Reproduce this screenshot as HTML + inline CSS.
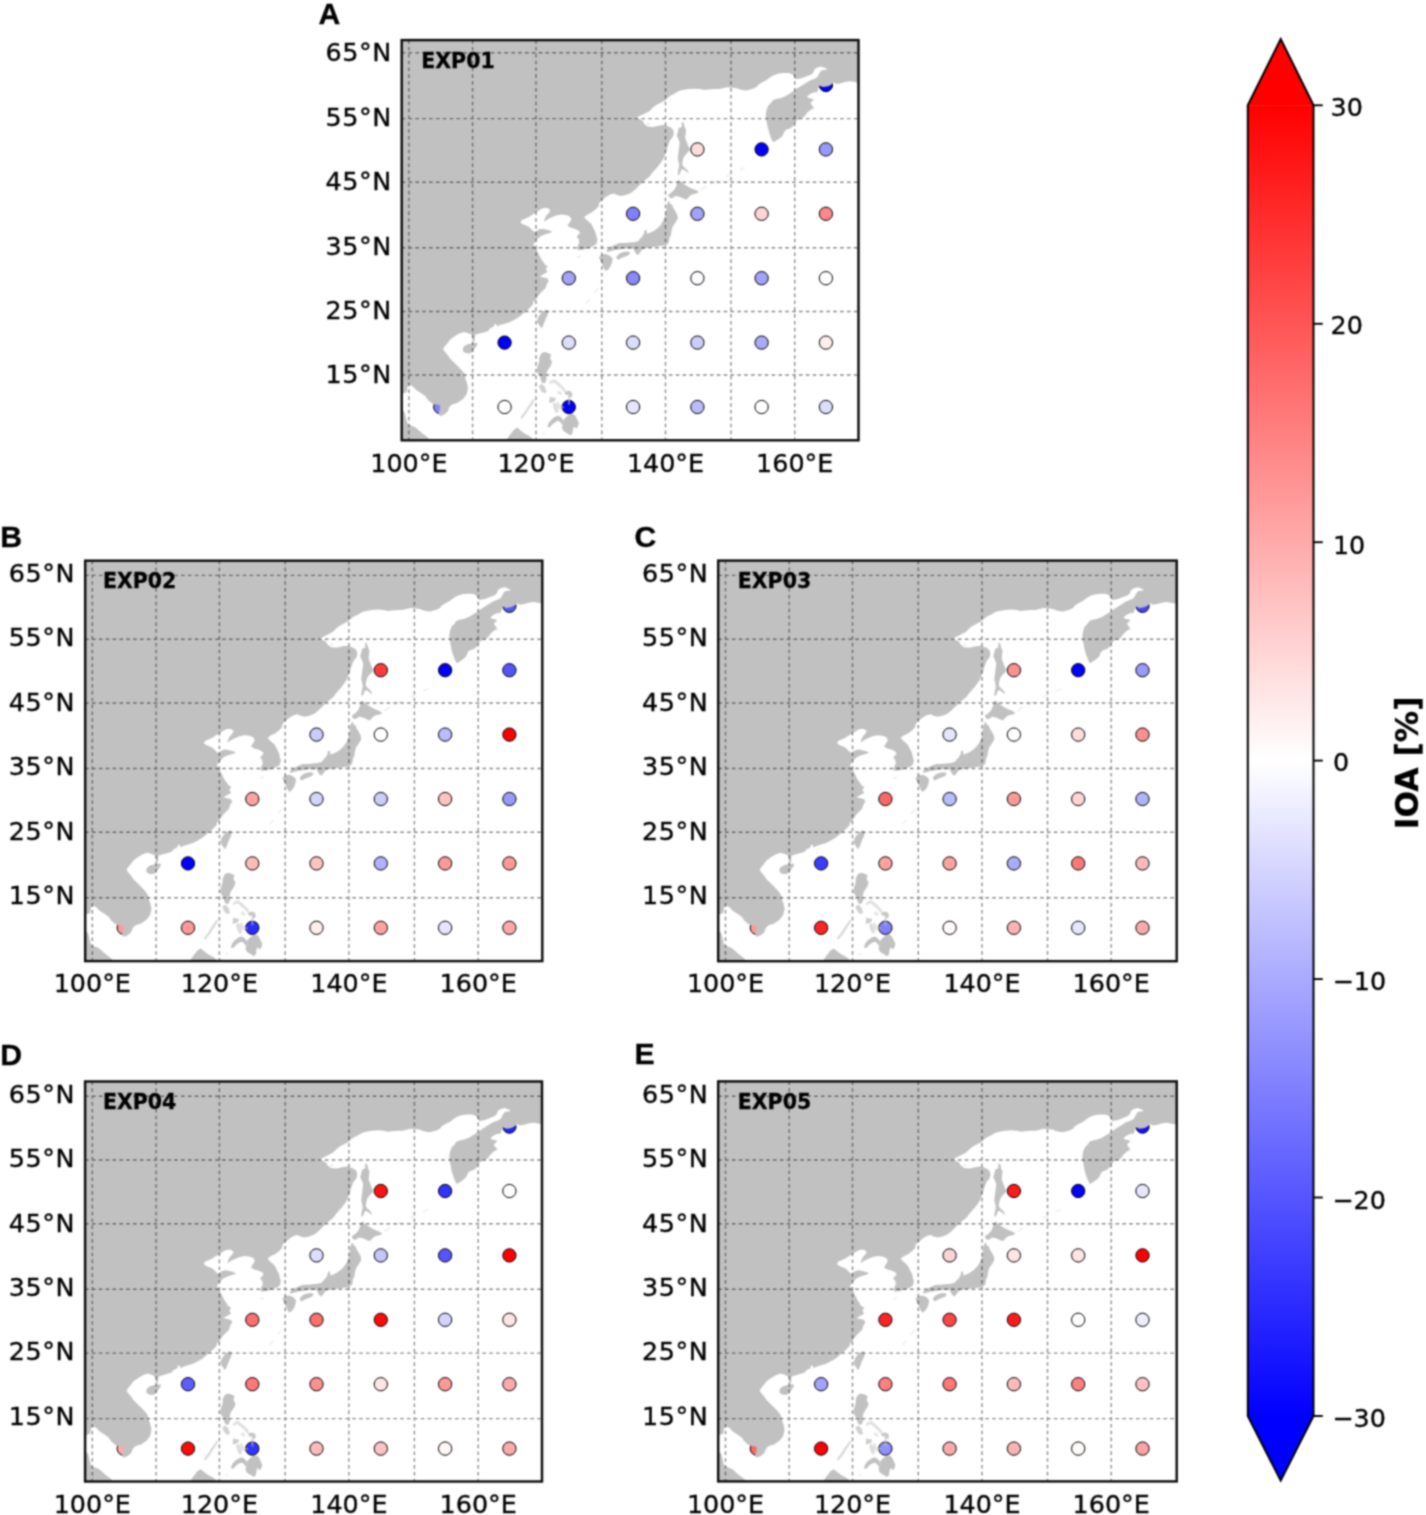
<!DOCTYPE html>
<html lang="en"><head><meta charset="utf-8"><title>IOA maps</title>
<style>
html,body{margin:0;padding:0;background:#fff}
svg{display:block}
.t{font-family:"DejaVu Sans","Liberation Sans",sans-serif;font-size:25.4px;fill:#000;stroke:#000;stroke-width:.35}
.e{font-family:"DejaVu Sans","Liberation Sans",sans-serif;font-weight:bold;font-size:20.5px;fill:#000;stroke:#000;stroke-width:.3}
.p{font-family:"Liberation Sans",Arial,sans-serif;font-weight:bold;font-size:30.2px;fill:#000;stroke:#000;stroke-width:.3}
.c{font-family:"DejaVu Sans","Liberation Sans",sans-serif;font-size:25.4px;fill:#000;stroke:#000;stroke-width:.35}
.l{font-family:"DejaVu Sans","Liberation Sans",sans-serif;font-weight:bold;font-size:31.4px;fill:#000;stroke:#000;stroke-width:.3}
.g{stroke:#000;stroke-opacity:.46;stroke-width:1.4;stroke-dasharray:3.6 3.25;fill:none}
.d{stroke:#000;stroke-opacity:1;stroke-width:1.0}
</style></head><body>
<svg width="1426" height="1515" viewBox="0 0 1426 1515">
<rect width="1426" height="1515" fill="#fff"/>
<defs><linearGradient id="bwr" x1="0" y1="0" x2="0" y2="1"><stop offset="0" stop-color="#ff0000"/><stop offset="0.5" stop-color="#ffffff"/><stop offset="1" stop-color="#0000ff"/></linearGradient>
<clipPath id="cpA"><rect x="401.7" y="40.1" width="456.8" height="400.2"/></clipPath>
<clipPath id="cpB"><rect x="85.2" y="560.7" width="457.1" height="400.4"/></clipPath>
<clipPath id="cpC"><rect x="718.2" y="560.6" width="458.5" height="400.6"/></clipPath>
<clipPath id="cpD"><rect x="85.1" y="1081.5" width="456.9" height="400.0"/></clipPath>
<clipPath id="cpE"><rect x="718.2" y="1081.4" width="458.5" height="400.0"/></clipPath>
<filter id="soft" filterUnits="userSpaceOnUse" x="0" y="0" width="1426" height="1515" color-interpolation-filters="sRGB"><feConvolveMatrix order="5" kernelMatrix="0.00048 0.00501 0.01095 0.00501 0.00048 0.00501 0.05222 0.11405 0.05222 0.00501 0.01095 0.11405 0.24912 0.11405 0.01095 0.00501 0.05222 0.11405 0.05222 0.00501 0.00048 0.00501 0.01095 0.00501 0.00048" edgeMode="duplicate" preserveAlpha="true"/></filter>
</defs>
<g filter="url(#soft)">
<rect width="1426" height="1515" fill="#fff"/>
<g id="panelA">
<g clip-path="url(#cpA)">
<circle class="d" cx="825.9" cy="85.0" r="6.65" fill="#0000ff"/><circle class="d" cx="697.4" cy="149.4" r="6.65" fill="#ffdddd"/><circle class="d" cx="761.6" cy="149.4" r="6.65" fill="#0000ff"/><circle class="d" cx="825.9" cy="149.4" r="6.65" fill="#9999ff"/><circle class="d" cx="633.1" cy="213.8" r="6.65" fill="#8080ff"/><circle class="d" cx="697.4" cy="213.8" r="6.65" fill="#a2a2ff"/><circle class="d" cx="761.6" cy="213.8" r="6.65" fill="#ffd4d4"/><circle class="d" cx="825.9" cy="213.8" r="6.65" fill="#ff8888"/><circle class="d" cx="568.8" cy="278.2" r="6.65" fill="#a2a2ff"/><circle class="d" cx="633.1" cy="278.2" r="6.65" fill="#8888ff"/><circle class="d" cx="697.4" cy="278.2" r="6.65" fill="#fbfbff"/><circle class="d" cx="761.6" cy="278.2" r="6.65" fill="#a2a2ff"/><circle class="d" cx="825.9" cy="278.2" r="6.65" fill="#ffffff"/><circle class="d" cx="504.6" cy="342.6" r="6.65" fill="#0000ff"/><circle class="d" cx="568.8" cy="342.6" r="6.65" fill="#ddddff"/><circle class="d" cx="633.1" cy="342.6" r="6.65" fill="#ddddff"/><circle class="d" cx="697.4" cy="342.6" r="6.65" fill="#ccccff"/><circle class="d" cx="761.6" cy="342.6" r="6.65" fill="#aaaaff"/><circle class="d" cx="825.9" cy="342.6" r="6.65" fill="#ffeeee"/><circle class="d" cx="440.3" cy="407.0" r="6.65" fill="#8080ff"/><circle class="d" cx="504.6" cy="407.0" r="6.65" fill="#ffffff"/><circle class="d" cx="568.8" cy="407.0" r="6.65" fill="#0000ff"/><circle class="d" cx="633.1" cy="407.0" r="6.65" fill="#e6e6ff"/><circle class="d" cx="697.4" cy="407.0" r="6.65" fill="#bbbbff"/><circle class="d" cx="761.6" cy="407.0" r="6.65" fill="#ffffff"/><circle class="d" cx="825.9" cy="407.0" r="6.65" fill="#ddddff"/>
<path fill="#c1c1c1" d="M428.5 440.9L428.5 438.1L421.2 432.5L415.6 427.4L411.6 425.8L407.7 424.1L406.0 418.5L404.9 412.9L403.2 410.6L399.9 409.5L399.9 393.8L403.8 393.2L406.6 392.1L407.2 389.3L407.7 385.9L410.0 385.1L412.8 386.2L416.1 389.9L420.6 392.7L425.1 396.0L427.9 400.0L431.3 402.8L433.5 404.2L437.5 404.4L440.3 405.6L440.0 409.5L438.6 412.9L440.1 416.2L444.2 414.4L447.7 411.6L449.2 407.3L452.0 404.4L457.7 402.8L463.3 398.8L466.6 394.3L468.0 388.2L466.9 382.6L465.5 379.2L465.2 376.1L463.2 372.1L460.8 369.2L457.8 366.2L453.9 362.3L450.0 358.4L448.0 355.4L445.1 352.0L443.1 349.5L444.1 347.1L447.0 343.7L450.0 339.7L453.9 336.8L458.8 333.8L463.7 331.9L467.6 332.9L470.6 334.3L472.1 334.8L472.6 341.2L474.5 341.2L475.0 334.8L478.4 333.8L483.4 332.4L488.3 330.9L489.8 328.6L493.7 326.6L494.7 323.7L496.2 324.2L497.2 326.6L499.6 325.1L504.5 323.7L509.5 322.2L514.4 319.7L519.3 316.8L523.2 313.4L527.1 310.4L530.1 307.5L533.0 304.5L533.5 300.6L535.0 301.6L536.9 297.6L539.9 293.7L542.8 290.8L545.8 287.8L546.8 283.9L548.7 281.0L547.7 278.5L543.8 277.5L539.9 276.5L543.8 274.1L547.7 272.1L545.8 269.2L547.7 266.2L544.8 264.3L542.8 261.3L540.9 258.4L538.9 254.5L536.9 250.5L536.0 247.8L534.0 246.1L533.5 244.6L535.0 241.7L536.9 239.7L539.9 236.8L543.8 234.8L548.7 233.3L552.6 231.9L549.7 230.4L545.8 229.4L541.8 228.7L538.9 229.4L536.5 230.9L534.5 232.1L532.0 229.9L529.1 227.0L526.7 225.8L522.8 224.3L520.3 222.4L521.8 219.9L525.7 218.4L529.6 216.5L532.6 214.5L536.0 212.6L539.5 210.1L543.4 208.1L547.3 208.1L550.3 210.1L548.8 213.0L546.3 215.5L544.9 218.4L543.9 221.9L547.3 219.4L551.2 217.5L556.1 215.5L561.1 214.5L566.0 215.0L569.9 216.5L571.4 219.4L568.9 223.4L567.4 225.8L570.9 227.8L574.8 228.8L578.7 230.7L580.2 233.2L577.7 235.1L576.8 237.1L578.7 239.1L579.2 243.0L577.7 245.9L576.8 248.9L578.7 249.9L583.6 249.4L588.5 247.9L593.4 245.9L596.4 244.0L597.4 240.0L596.4 236.1L595.4 232.2L593.4 228.3L591.5 224.3L588.5 221.4L585.6 218.9L584.1 217.0L587.6 214.5L591.5 212.6L595.4 209.6L598.4 206.7L599.3 202.7L601.8 200.3L606.2 196.8L610.1 194.4L614.1 193.4L617.0 194.9L620.9 195.9L625.8 194.9L630.8 192.9L634.7 190.0L637.6 187.0L641.6 183.1L645.5 179.7L650.0 176.2L651.2 174.1L654.8 170.0L658.1 166.2L661.1 162.3L663.5 158.4L665.0 154.4L666.5 150.5L667.9 145.6L669.9 140.7L672.8 136.8L673.8 133.8L673.3 129.9L670.9 127.4L666.0 125.5L663.0 125.0L657.1 126.0L653.2 126.9L647.3 126.5L643.9 123.5L642.9 121.1L639.5 119.1L635.5 118.6L639.5 116.1L643.4 114.2L649.3 111.2L653.2 107.3L657.1 104.4L661.1 102.4L665.0 100.4L667.9 97.5L670.9 95.5L674.8 93.6L678.7 91.1L682.6 90.1L688.5 89.1L694.4 88.7L700.3 89.1L704.2 90.1L708.2 89.6L714.1 89.1L719.0 89.1L722.9 88.2L726.8 87.2L731.7 87.5L736.6 88.2L738.6 89.1L742.5 90.1L746.5 90.6L750.0 89.6L753.5 88.6L756.4 87.1L758.4 84.7L762.3 82.2L766.2 80.3L770.2 77.3L774.1 74.9L779.0 73.4L783.9 72.9L788.8 72.9L792.7 74.4L795.7 79.3L801.6 78.3L806.5 76.3L811.4 74.4L813.4 72.4L814.3 69.5L817.3 67.5L821.2 66.5L825.1 68.0L827.6 69.5L824.2 69.9L821.2 70.4L819.2 73.4L817.3 77.3L813.4 79.3L809.4 80.7L805.5 83.2L801.6 85.7L797.6 88.1L793.7 91.1L789.8 93.5L785.9 96.0L781.0 97.9L776.1 98.9L773.1 99.9L771.1 102.8L768.2 105.8L766.7 109.7L765.7 114.6L766.2 119.5L767.2 124.4L768.2 129.3L769.7 134.2L771.1 138.2L772.6 141.6L774.1 142.1L777.0 140.1L780.0 138.2L782.9 135.2L783.9 132.3L785.9 129.8L789.8 128.4L792.7 126.4L794.7 123.4L796.7 120.5L800.6 118.5L804.5 116.6L806.5 113.6L809.4 110.7L812.4 108.7L813.4 106.8L811.4 104.8L810.4 102.8L812.4 100.9L813.8 99.4L811.4 98.4L808.4 97.9L807.0 96.5L809.4 94.5L813.4 92.5L817.3 92.0L818.3 88.1L819.2 85.7L823.2 87.1L828.1 86.3L832.0 84.2L833.5 82.0L835.9 84.0L840.8 83.2L845.8 81.7L850.7 81.2L855.6 82.2L861.5 83.2L862.0 36.0L398.0 36.0L398.0 444.0Z"/>
<path fill="#c1c1c1" d="M462.7 349.5L463.7 346.6L466.7 344.6L470.6 343.7L474.5 342.7L477.5 343.2L477.0 345.6L474.5 348.6L472.6 351.5L469.6 353.5L465.7 353.0L463.2 351.5ZM537.4 319.2L539.4 315.3L542.8 311.4L546.3 309.4L548.2 311.4L547.5 315.3L545.6 319.2L544.0 323.2L542.5 327.1L541.4 328.3L538.7 324.6L536.9 321.7ZM606.7 250.0L609.6 247.6L614.5 245.1L619.5 243.1L624.4 243.1L629.3 242.6L634.2 242.2L638.1 241.2L640.1 238.7L642.0 236.8L644.0 233.8L644.5 230.4L646.5 229.9L646.9 233.8L649.9 232.8L653.8 230.9L657.7 227.9L660.7 225.0L663.1 221.1L665.1 216.1L666.1 211.2L666.6 206.3L667.6 202.4L669.5 200.9L670.0 203.9L672.0 204.4L673.4 208.3L675.4 211.2L677.4 215.2L677.9 218.1L676.4 221.1L674.4 224.0L672.5 226.9L671.5 230.9L671.0 234.8L669.5 237.7L669.0 240.7L668.5 243.1L666.6 244.6L664.6 245.6L660.7 246.1L656.8 246.6L652.8 247.1L648.9 247.6L645.0 248.5L642.0 249.5L640.1 252.5L638.1 254.9L635.7 253.4L634.2 250.5L633.2 248.5L629.3 248.5L624.4 248.5L619.5 249.5L614.5 250.0L609.6 251.5L606.7 252.0ZM616.5 256.4L619.5 253.4L623.4 252.0L627.3 251.5L630.3 252.5L628.8 254.9L625.3 256.4L621.4 257.9L618.5 259.8L616.5 258.4ZM598.8 257.4L601.8 254.4L605.7 253.9L609.6 255.4L612.6 258.4L612.1 262.3L610.6 266.2L608.7 269.2L605.7 271.1L603.7 268.2L602.3 264.2L600.3 260.3ZM668.5 194.5L671.5 192.6L674.4 189.6L676.4 185.7L677.4 181.8L678.4 179.8L681.3 181.8L684.2 184.2L688.2 186.7L692.1 188.7L696.0 190.1L699.0 192.1L696.0 193.6L692.1 194.5L689.2 196.5L686.7 199.5L684.2 199.0L681.3 197.5L678.4 196.5L675.4 196.0L673.4 197.5L671.5 198.5L669.5 197.5L668.5 196.0ZM682.2 121.5L683.6 123.0L684.6 126.9L686.1 129.9L685.6 133.8L685.1 137.7L686.6 141.7L688.5 146.6L690.0 149.5L688.5 151.5L685.6 154.4L683.6 157.4L682.6 161.3L682.2 164.2L683.6 166.7L686.6 169.2L688.5 172.1L688.0 173.1L685.6 171.1L682.6 169.2L681.2 170.1L680.2 173.1L678.7 175.5L677.7 174.1L678.2 170.1L679.2 166.2L678.7 162.3L677.7 158.4L678.2 154.4L678.7 150.5L679.2 146.6L679.7 142.6L678.2 138.7L676.8 135.8L677.7 131.8L678.7 127.9L681.7 126.9L681.7 123.5ZM539.3 357.4L541.2 353.5L544.2 352.0L548.1 353.0L551.1 354.5L550.1 358.4L552.0 361.8L551.1 365.3L549.1 368.2L547.1 371.1L546.1 375.1L546.6 379.0L545.2 382.9L542.2 382.9L540.7 380.0L540.3 376.1L538.3 374.1L536.8 371.1L537.3 367.2L538.8 363.3L539.3 360.3ZM505.9 441.3L506.9 439.4L509.8 435.0L513.7 430.0L517.2 427.6L520.6 430.5L524.5 433.5L528.5 435.4L531.4 437.4L533.4 439.4L533.9 441.3ZM563.1 420.5L566.5 416.6L569.9 414.3L573.2 413.8L575.5 416.0L577.2 419.4L578.9 423.3L578.0 426.1L576.3 428.9L575.2 427.2L573.8 426.7L573.0 429.5L572.4 433.4L570.4 435.4L568.2 434.0L565.4 432.3L563.1 430.6L562.0 427.8L562.6 425.0L564.3 423.3ZM564.3 423.3L563.4 420.2L560.9 417.1L558.1 415.7L555.0 416.8L551.4 419.4L548.6 423.0L547.4 426.4L549.7 427.5L551.9 424.7L554.7 422.5L557.3 421.1L559.2 421.3L561.2 423.3L562.6 425.5Z"/>
<path fill="#c1c1c1" fill-opacity="0.32" d="M700.4 189.6L705.8 185.7L706.8 186.7L701.4 190.6ZM710.8 183.7L717.6 179.8L718.4 180.8L711.5 184.7ZM725.8 176.0L731.7 173.1L732.3 174.1L726.4 177.2ZM739.6 169.6L744.5 167.2L745.1 168.2L740.2 170.8ZM593.9 292.7L597.8 287.8L598.8 288.6L594.9 293.5ZM585.5 303.0L589.5 298.6L590.4 299.4L586.5 303.8ZM576.2 256.9L580.1 255.6L580.6 256.9L576.7 258.0ZM811.9 107.7L813.8 106.8L814.8 108.7L812.9 109.9ZM646.8 123.0L649.3 122.5L649.8 124.5L647.3 125.0Z"/>
<path fill="#c1c1c1" fill-opacity="0.90" d="M564.3 392.4L567.6 390.8L571.3 391.6L572.4 394.7L571.6 397.5L569.3 396.9L567.9 395.0L565.7 394.7Z"/><path fill="#c1c1c1" fill-opacity="0.60" d="M567.9 396.4L570.2 396.9L569.9 404.8L568.2 404.8L567.7 399.2Z"/><path fill="#c1c1c1" fill-opacity="0.80" d="M549.7 396.9L555.9 398.1L554.5 401.4L551.4 402.5L549.1 403.1Z"/><path fill="#c1c1c1" fill-opacity="0.55" d="M552.5 403.7L555.6 402.5L558.1 406.5L558.7 411.8L556.1 413.2L553.9 409.3Z"/><path fill="#c1c1c1" fill-opacity="0.45" d="M556.4 401.7L558.9 402.0L561.5 408.1L560.1 410.1L557.8 406.5Z"/><path fill="#c1c1c1" fill-opacity="0.75" d="M539.0 385.4L541.8 384.0L544.9 386.8L546.6 391.9L544.4 393.3L541.5 391.6L539.6 388.2Z"/><path fill="#c1c1c1" fill-opacity="0.50" d="M549.1 382.6L551.6 380.1L555.0 379.5L558.7 382.3L562.0 385.4L564.8 388.5L566.0 391.6L564.0 391.9L561.5 388.8L558.1 386.0L555.0 383.2L552.5 382.6L550.2 384.6Z"/><path fill="#c1c1c1" fill-opacity="0.40" d="M556.7 391.6L560.1 390.8L562.3 393.6L561.2 395.2L558.4 394.1Z"/><path fill="#c1c1c1" fill-opacity="0.60" d="M561.5 406.5L563.7 405.9L564.3 408.1L562.0 408.7Z"/><path fill="#c1c1c1" fill-opacity="0.60" d="M524.7 411.5L528.1 406.2L530.9 402.3L533.1 398.9L534.8 400.0L532.6 403.9L529.8 408.1L526.4 413.5L521.9 418.8L520.2 417.4Z"/><path fill="#c1c1c1" fill-opacity="0.30" d="M541.8 432.6L544.6 432.3L544.9 433.7L542.1 434.0Z"/>
<path class="g" d="M408.9 40.1 V440.3M472.6 40.1 V440.3M536.0 40.1 V440.3M601.8 40.1 V440.3M665.5 40.1 V440.3M731.0 40.1 V440.3M794.7 40.1 V440.3M401.7 52.8 H858.5M401.7 118.6 H858.5M401.7 182.3 H858.5M401.7 247.8 H858.5M401.7 311.5 H858.5M401.7 375.0 H858.5"/>
</g>
<rect x="401.7" y="40.1" width="456.8" height="400.2" fill="none" stroke="#0c0c0c" stroke-width="2.45"/>
<text class="e" x="421.3" y="67.6">EXP01</text>
<text class="p" x="318.6" y="24.0">A</text>
<text class="t" text-anchor="end" letter-spacing=".6" x="391.8" y="61.4">65°N</text><text class="t" text-anchor="end" letter-spacing=".6" x="391.8" y="125.8">55°N</text><text class="t" text-anchor="end" letter-spacing=".6" x="391.8" y="190.2">45°N</text><text class="t" text-anchor="end" letter-spacing=".6" x="391.8" y="254.6">35°N</text><text class="t" text-anchor="end" letter-spacing=".6" x="391.8" y="319.0">25°N</text><text class="t" text-anchor="end" letter-spacing=".6" x="391.8" y="383.4">15°N</text>
<text class="t" text-anchor="middle" x="408.9" y="471.5">100°E</text><text class="t" text-anchor="middle" x="536.0" y="471.5">120°E</text><text class="t" text-anchor="middle" x="665.5" y="471.5">140°E</text><text class="t" text-anchor="middle" x="794.7" y="471.5">160°E</text>
</g>
<g id="panelB">
<g clip-path="url(#cpB)">
<circle class="d" cx="509.4" cy="605.8" r="6.65" fill="#5555ff"/><circle class="d" cx="380.8" cy="670.2" r="6.65" fill="#ff3c3c"/><circle class="d" cx="445.1" cy="670.2" r="6.65" fill="#0000ff"/><circle class="d" cx="509.4" cy="670.2" r="6.65" fill="#5555ff"/><circle class="d" cx="316.5" cy="734.6" r="6.65" fill="#ccccff"/><circle class="d" cx="380.8" cy="734.6" r="6.65" fill="#ffffff"/><circle class="d" cx="445.1" cy="734.6" r="6.65" fill="#bbbbff"/><circle class="d" cx="509.4" cy="734.6" r="6.65" fill="#ff0000"/><circle class="d" cx="252.3" cy="799.0" r="6.65" fill="#ffa2a2"/><circle class="d" cx="316.5" cy="799.0" r="6.65" fill="#d4d4ff"/><circle class="d" cx="380.8" cy="799.0" r="6.65" fill="#ccccff"/><circle class="d" cx="445.1" cy="799.0" r="6.65" fill="#ffc3c3"/><circle class="d" cx="509.4" cy="799.0" r="6.65" fill="#9999ff"/><circle class="d" cx="188.0" cy="863.4" r="6.65" fill="#0000ff"/><circle class="d" cx="252.3" cy="863.4" r="6.65" fill="#ffbbbb"/><circle class="d" cx="316.5" cy="863.4" r="6.65" fill="#ffc3c3"/><circle class="d" cx="380.8" cy="863.4" r="6.65" fill="#b2b2ff"/><circle class="d" cx="445.1" cy="863.4" r="6.65" fill="#ff9999"/><circle class="d" cx="509.4" cy="863.4" r="6.65" fill="#ff9999"/><circle class="d" cx="123.7" cy="927.8" r="6.65" fill="#ff9999"/><circle class="d" cx="188.0" cy="927.8" r="6.65" fill="#ff9999"/><circle class="d" cx="252.3" cy="927.8" r="6.65" fill="#2a2aff"/><circle class="d" cx="316.5" cy="927.8" r="6.65" fill="#ffeeee"/><circle class="d" cx="380.8" cy="927.8" r="6.65" fill="#ffa2a2"/><circle class="d" cx="445.1" cy="927.8" r="6.65" fill="#e6e6ff"/><circle class="d" cx="509.4" cy="927.8" r="6.65" fill="#ffaaaa"/>
<path fill="#c1c1c1" d="M111.9 961.7L111.9 958.9L104.6 953.3L99.0 948.2L95.1 946.6L91.2 944.9L89.5 939.3L88.4 933.7L86.7 931.4L83.3 930.3L83.3 914.6L87.2 914.0L90.0 912.9L90.6 910.1L91.2 906.7L93.4 905.9L96.2 907.0L99.6 910.7L104.1 913.5L108.6 916.8L111.4 920.8L114.7 923.6L117.0 925.0L120.9 925.2L123.7 926.4L123.4 930.3L122.0 933.7L123.6 937.0L127.6 935.2L131.1 932.4L132.7 928.1L135.5 925.2L141.1 923.6L146.7 919.6L150.1 915.1L151.5 909.0L150.4 903.4L149.0 900.0L148.6 896.9L146.7 892.9L144.2 890.0L141.3 887.0L137.4 883.1L133.4 879.2L131.5 876.2L128.5 872.8L126.6 870.3L127.5 867.9L130.5 864.5L133.4 860.5L137.4 857.6L142.3 854.6L147.2 852.7L151.1 853.7L154.0 855.1L155.5 855.6L156.0 862.0L158.0 862.0L158.5 855.6L161.9 854.6L166.8 853.2L171.7 851.7L173.3 849.4L177.2 847.4L178.2 844.5L179.6 845.0L180.6 847.4L183.1 845.9L188.0 844.5L192.9 843.0L197.8 840.5L202.7 837.6L206.6 834.2L210.6 831.2L213.5 828.3L216.5 825.3L217.0 821.4L218.4 822.4L220.4 818.4L223.3 814.5L226.3 811.6L229.2 808.6L230.2 804.7L232.2 801.8L231.2 799.3L227.3 798.3L223.3 797.3L227.3 794.9L231.2 792.9L229.2 790.0L231.2 787.0L228.2 785.1L226.3 782.1L224.3 779.2L222.4 775.3L220.4 771.3L219.4 768.6L217.4 766.9L217.0 765.4L218.4 762.5L220.4 760.5L223.3 757.6L227.3 755.6L232.2 754.1L236.1 752.7L233.2 751.2L229.2 750.2L225.3 749.5L222.4 750.2L219.9 751.7L217.9 752.9L215.5 750.7L212.5 747.8L210.1 746.6L206.2 745.1L203.8 743.2L205.2 740.7L209.2 739.2L213.1 737.3L216.0 735.3L219.5 733.4L222.9 730.9L226.8 728.9L230.8 728.9L233.7 730.9L232.2 733.8L229.8 736.3L228.3 739.2L227.3 742.7L230.8 740.2L234.7 738.3L239.6 736.3L244.5 735.3L249.4 735.8L253.3 737.3L254.8 740.2L252.4 744.2L250.9 746.6L254.3 748.6L258.2 749.6L262.2 751.5L263.6 754.0L261.2 755.9L260.2 757.9L262.2 759.9L262.7 763.8L261.2 766.7L260.2 769.7L262.2 770.7L267.1 770.2L272.0 768.7L276.9 766.7L279.8 764.8L280.8 760.8L279.8 756.9L278.9 753.0L276.9 749.1L274.9 745.1L272.0 742.2L269.0 739.7L267.6 737.8L271.0 735.3L274.9 733.4L278.9 730.4L281.8 727.5L282.8 723.5L285.2 721.1L289.7 717.6L293.6 715.2L297.5 714.2L300.5 715.7L304.4 716.7L309.3 715.7L314.2 713.7L318.1 710.8L321.1 707.8L325.0 703.9L328.9 700.5L333.4 697.0L334.7 694.9L338.2 690.8L341.6 687.0L344.5 683.1L347.0 679.2L348.4 675.2L349.9 671.3L351.4 666.4L353.3 661.5L356.3 657.6L357.3 654.6L356.8 650.7L354.3 648.2L349.4 646.3L346.5 645.8L340.6 646.8L336.6 647.7L330.8 647.3L327.3 644.3L326.3 641.9L322.9 639.9L319.0 639.4L322.9 636.9L326.8 635.0L332.7 632.0L336.6 628.1L340.6 625.2L344.5 623.2L348.4 621.2L351.4 618.3L354.3 616.3L358.2 614.4L362.2 611.9L366.1 610.9L372.0 609.9L377.9 609.5L383.8 609.9L387.7 610.9L391.6 610.4L397.5 609.9L402.4 609.9L406.4 609.0L410.3 608.0L415.2 608.3L420.1 609.0L422.1 609.9L426.0 610.9L429.9 611.4L433.4 610.4L436.9 609.4L439.9 607.9L441.8 605.5L445.8 603.0L449.7 601.1L453.6 598.1L457.5 595.7L462.4 594.2L467.4 593.7L472.3 593.7L476.2 595.2L479.1 600.1L485.0 599.1L489.9 597.1L494.8 595.2L496.8 593.2L497.8 590.3L500.7 588.3L504.7 587.3L508.6 588.8L511.0 590.3L507.6 590.7L504.7 591.2L502.7 594.2L500.7 598.1L496.8 600.1L492.9 601.5L489.0 604.0L485.0 606.5L481.1 608.9L477.2 611.9L473.2 614.3L469.3 616.8L464.4 618.7L459.5 619.7L456.6 620.7L454.6 623.6L451.6 626.6L450.2 630.5L449.2 635.4L449.7 640.3L450.7 645.2L451.6 650.1L453.1 655.0L454.6 659.0L456.1 662.4L457.5 662.9L460.5 660.9L463.4 659.0L466.4 656.0L467.4 653.1L469.3 650.6L473.2 649.2L476.2 647.2L478.2 644.2L480.1 641.3L484.0 639.3L488.0 637.4L489.9 634.4L492.9 631.5L495.8 629.5L496.8 627.6L494.8 625.6L493.9 623.6L495.8 621.7L497.3 620.2L494.8 619.2L491.9 618.7L490.4 617.3L492.9 615.3L496.8 613.3L500.7 612.8L501.7 608.9L502.7 606.5L506.6 607.9L511.5 607.1L515.5 605.0L516.9 602.8L519.4 604.8L524.3 604.0L529.2 602.5L534.1 602.0L539.0 603.0L544.9 604.0L545.5 556.8L81.4 556.8L81.4 964.8Z"/>
<path fill="#c1c1c1" d="M146.2 870.3L147.2 867.4L150.1 865.4L154.0 864.5L158.0 863.5L160.9 864.0L160.4 866.4L158.0 869.4L156.0 872.3L153.1 874.3L149.1 873.8L146.7 872.3ZM220.9 840.0L222.8 836.1L226.3 832.2L229.7 830.2L231.7 832.2L231.0 836.1L229.0 840.0L227.5 844.0L226.0 847.9L224.8 849.1L222.2 845.4L220.4 842.5ZM290.1 770.8L293.1 768.4L298.0 765.9L302.9 763.9L307.8 763.9L312.7 763.4L317.6 763.0L321.6 762.0L323.5 759.5L325.5 757.6L327.4 754.6L327.9 751.2L329.9 750.7L330.4 754.6L333.3 753.6L337.3 751.7L341.2 748.7L344.1 745.8L346.6 741.9L348.6 736.9L349.5 732.0L350.0 727.1L351.0 723.2L353.0 721.7L353.5 724.7L355.4 725.2L356.9 729.1L358.9 732.0L360.8 736.0L361.3 738.9L359.8 741.9L357.9 744.8L355.9 747.7L354.9 751.7L354.4 755.6L353.0 758.5L352.5 761.5L352.0 763.9L350.0 765.4L348.1 766.4L344.1 766.9L340.2 767.4L336.3 767.9L332.4 768.4L328.4 769.3L325.5 770.3L323.5 773.3L321.6 775.7L319.1 774.2L317.6 771.3L316.6 769.3L312.7 769.3L307.8 769.3L302.9 770.3L298.0 770.8L293.1 772.3L290.1 772.8ZM300.0 777.2L302.9 774.2L306.8 772.8L310.8 772.3L313.7 773.3L312.2 775.7L308.8 777.2L304.9 778.7L301.9 780.6L300.0 779.2ZM282.3 778.2L285.2 775.2L289.2 774.7L293.1 776.2L296.0 779.2L295.5 783.1L294.1 787.0L292.1 790.0L289.2 791.9L287.2 789.0L285.7 785.0L283.8 781.1ZM352.0 715.3L354.9 713.4L357.9 710.4L359.8 706.5L360.8 702.6L361.8 700.6L364.8 702.6L367.7 705.0L371.6 707.5L375.6 709.5L379.5 710.9L382.4 712.9L379.5 714.4L375.6 715.3L372.6 717.3L370.2 720.3L367.7 719.8L364.8 718.3L361.8 717.3L358.9 716.8L356.9 718.3L354.9 719.3L353.0 718.3L352.0 716.8ZM365.6 642.3L367.1 643.8L368.1 647.7L369.5 650.7L369.0 654.6L368.6 658.5L370.0 662.5L372.0 667.4L373.5 670.3L372.0 672.3L369.0 675.2L367.1 678.2L366.1 682.1L365.6 685.0L367.1 687.5L370.0 690.0L372.0 692.9L371.5 693.9L369.0 691.9L366.1 690.0L364.6 690.9L363.6 693.9L362.2 696.3L361.2 694.9L361.7 690.9L362.7 687.0L362.2 683.1L361.2 679.2L361.7 675.2L362.2 671.3L362.7 667.4L363.2 663.4L361.7 659.5L360.2 656.6L361.2 652.6L362.2 648.7L365.1 647.7L365.1 644.3ZM222.7 878.2L224.7 874.3L227.6 872.8L231.6 873.8L234.5 875.3L233.5 879.2L235.5 882.6L234.5 886.1L232.5 889.0L230.6 891.9L229.6 895.9L230.1 899.8L228.6 903.7L225.7 903.7L224.2 900.8L223.7 896.9L221.7 894.9L220.3 891.9L220.8 888.0L222.2 884.1L222.7 881.1ZM189.3 962.1L190.3 960.2L193.3 955.8L197.2 950.8L200.6 948.4L204.1 951.3L208.0 954.3L211.9 956.2L214.9 958.2L216.8 960.2L217.3 962.1ZM246.6 941.3L250.0 937.4L253.3 935.1L256.7 934.6L258.9 936.8L260.6 940.2L262.3 944.1L261.5 946.9L259.8 949.7L258.7 948.0L257.3 947.5L256.4 950.3L255.9 954.2L253.9 956.2L251.6 954.8L248.8 953.1L246.6 951.4L245.5 948.6L246.0 945.8L247.7 944.1ZM247.7 944.1L246.9 941.0L244.4 937.9L241.5 936.5L238.5 937.6L234.8 940.2L232.0 943.8L230.9 947.2L233.1 948.3L235.4 945.5L238.2 943.3L240.7 941.9L242.7 942.1L244.6 944.1L246.0 946.3Z"/>
<path fill="#c1c1c1" fill-opacity="0.32" d="M383.9 710.4L389.3 706.5L390.3 707.5L384.9 711.4ZM394.2 704.5L401.1 700.6L401.9 701.6L395.0 705.5ZM409.3 696.8L415.2 693.9L415.8 694.9L409.9 698.0ZM423.0 690.4L427.9 688.0L428.5 689.0L423.6 691.6ZM277.3 813.5L281.3 808.6L282.2 809.4L278.3 814.3ZM269.0 823.8L272.9 819.4L273.9 820.2L270.0 824.6ZM259.7 777.7L263.6 776.4L264.1 777.7L260.2 778.8ZM495.3 628.5L497.3 627.6L498.3 629.5L496.3 630.7ZM330.3 643.8L332.7 643.3L333.2 645.3L330.8 645.8Z"/>
<path fill="#c1c1c1" fill-opacity="0.90" d="M247.7 913.2L251.1 911.6L254.7 912.4L255.9 915.5L255.0 918.3L252.8 917.7L251.4 915.8L249.1 915.5Z"/><path fill="#c1c1c1" fill-opacity="0.60" d="M251.4 917.2L253.6 917.7L253.3 925.6L251.6 925.6L251.2 920.0Z"/><path fill="#c1c1c1" fill-opacity="0.80" d="M233.1 917.7L239.3 918.9L237.9 922.2L234.8 923.3L232.6 923.9Z"/><path fill="#c1c1c1" fill-opacity="0.55" d="M235.9 924.5L239.0 923.3L241.5 927.3L242.1 932.6L239.6 934.0L237.3 930.1Z"/><path fill="#c1c1c1" fill-opacity="0.45" d="M239.9 922.5L242.4 922.8L244.9 928.9L243.5 930.9L241.3 927.3Z"/><path fill="#c1c1c1" fill-opacity="0.75" d="M222.5 906.2L225.3 904.8L228.4 907.6L230.0 912.7L227.8 914.1L225.0 912.4L223.0 909.0Z"/><path fill="#c1c1c1" fill-opacity="0.50" d="M232.6 903.4L235.1 900.9L238.5 900.3L242.1 903.1L245.5 906.2L248.3 909.3L249.4 912.4L247.4 912.7L244.9 909.6L241.5 906.8L238.5 904.0L235.9 903.4L233.7 905.4Z"/><path fill="#c1c1c1" fill-opacity="0.40" d="M240.1 912.4L243.5 911.6L245.8 914.4L244.6 916.0L241.8 914.9Z"/><path fill="#c1c1c1" fill-opacity="0.60" d="M244.9 927.3L247.2 926.7L247.7 928.9L245.5 929.5Z"/><path fill="#c1c1c1" fill-opacity="0.60" d="M208.2 932.3L211.5 927.0L214.3 923.1L216.6 919.7L218.3 920.8L216.0 924.7L213.2 928.9L209.9 934.3L205.4 939.6L203.7 938.2Z"/><path fill="#c1c1c1" fill-opacity="0.30" d="M225.3 953.4L228.1 953.1L228.4 954.5L225.6 954.8Z"/>
<path class="g" d="M92.3 560.7 V961.1M156.1 560.7 V961.1M219.4 560.7 V961.1M285.2 560.7 V961.1M348.9 560.7 V961.1M414.4 560.7 V961.1M478.2 560.7 V961.1M85.2 575.4 H542.2M85.2 639.2 H542.2M85.2 703.0 H542.2M85.2 768.5 H542.2M85.2 832.3 H542.2M85.2 897.8 H542.2"/>
</g>
<rect x="85.2" y="560.7" width="457.1" height="400.4" fill="none" stroke="#0c0c0c" stroke-width="2.45"/>
<text class="e" x="103.0" y="588.2">EXP02</text>
<text class="p" x="0.3" y="546.8">B</text>
<text class="t" text-anchor="end" letter-spacing=".6" x="75.2" y="582.0">65°N</text><text class="t" text-anchor="end" letter-spacing=".6" x="75.2" y="646.4">55°N</text><text class="t" text-anchor="end" letter-spacing=".6" x="75.2" y="710.8">45°N</text><text class="t" text-anchor="end" letter-spacing=".6" x="75.2" y="775.2">35°N</text><text class="t" text-anchor="end" letter-spacing=".6" x="75.2" y="839.6">25°N</text><text class="t" text-anchor="end" letter-spacing=".6" x="75.2" y="904.0">15°N</text>
<text class="t" text-anchor="middle" x="92.3" y="992.3">100°E</text><text class="t" text-anchor="middle" x="219.4" y="992.3">120°E</text><text class="t" text-anchor="middle" x="348.9" y="992.3">140°E</text><text class="t" text-anchor="middle" x="478.2" y="992.3">160°E</text>
</g>
<g id="panelC">
<g clip-path="url(#cpC)">
<circle class="d" cx="1142.5" cy="605.8" r="6.65" fill="#4444ff"/><circle class="d" cx="1013.9" cy="670.2" r="6.65" fill="#ff9090"/><circle class="d" cx="1078.2" cy="670.2" r="6.65" fill="#0000ff"/><circle class="d" cx="1142.5" cy="670.2" r="6.65" fill="#9999ff"/><circle class="d" cx="949.6" cy="734.6" r="6.65" fill="#e6e6ff"/><circle class="d" cx="1013.9" cy="734.6" r="6.65" fill="#ffffff"/><circle class="d" cx="1078.2" cy="734.6" r="6.65" fill="#ffdddd"/><circle class="d" cx="1142.5" cy="734.6" r="6.65" fill="#ff9090"/><circle class="d" cx="885.4" cy="799.0" r="6.65" fill="#ff6666"/><circle class="d" cx="949.6" cy="799.0" r="6.65" fill="#bbbbff"/><circle class="d" cx="1013.9" cy="799.0" r="6.65" fill="#ff9999"/><circle class="d" cx="1078.2" cy="799.0" r="6.65" fill="#ffd4d4"/><circle class="d" cx="1142.5" cy="799.0" r="6.65" fill="#b2b2ff"/><circle class="d" cx="821.1" cy="863.4" r="6.65" fill="#3c3cff"/><circle class="d" cx="885.4" cy="863.4" r="6.65" fill="#ffa2a2"/><circle class="d" cx="949.6" cy="863.4" r="6.65" fill="#ffa2a2"/><circle class="d" cx="1013.9" cy="863.4" r="6.65" fill="#aaaaff"/><circle class="d" cx="1078.2" cy="863.4" r="6.65" fill="#ff7777"/><circle class="d" cx="1142.5" cy="863.4" r="6.65" fill="#ffbbbb"/><circle class="d" cx="756.8" cy="927.8" r="6.65" fill="#ff9999"/><circle class="d" cx="821.1" cy="927.8" r="6.65" fill="#ff2222"/><circle class="d" cx="885.4" cy="927.8" r="6.65" fill="#8080ff"/><circle class="d" cx="949.6" cy="927.8" r="6.65" fill="#fffbfb"/><circle class="d" cx="1013.9" cy="927.8" r="6.65" fill="#ffb2b2"/><circle class="d" cx="1078.2" cy="927.8" r="6.65" fill="#e6e6ff"/><circle class="d" cx="1142.5" cy="927.8" r="6.65" fill="#ffaaaa"/>
<path fill="#c1c1c1" d="M745.0 961.7L745.0 958.9L737.7 953.3L732.1 948.2L728.2 946.6L724.3 944.9L722.6 939.3L721.5 933.7L719.8 931.4L716.4 930.3L716.4 914.6L720.3 914.0L723.1 912.9L723.7 910.1L724.3 906.7L726.5 905.9L729.3 907.0L732.7 910.7L737.2 913.5L741.7 916.8L744.5 920.8L747.8 923.6L750.1 925.0L754.0 925.2L756.8 926.4L756.5 930.3L755.1 933.7L756.7 937.0L760.7 935.2L764.2 932.4L765.8 928.1L768.6 925.2L774.2 923.6L779.8 919.6L783.2 915.1L784.6 909.0L783.5 903.4L782.1 900.0L781.7 896.9L779.8 892.9L777.3 890.0L774.4 887.0L770.5 883.1L766.5 879.2L764.6 876.2L761.6 872.8L759.7 870.3L760.6 867.9L763.6 864.5L766.5 860.5L770.5 857.6L775.4 854.6L780.3 852.7L784.2 853.7L787.1 855.1L788.6 855.6L789.1 862.0L791.1 862.0L791.6 855.6L795.0 854.6L799.9 853.2L804.8 851.7L806.4 849.4L810.3 847.4L811.3 844.5L812.7 845.0L813.7 847.4L816.2 845.9L821.1 844.5L826.0 843.0L830.9 840.5L835.8 837.6L839.7 834.2L843.7 831.2L846.6 828.3L849.6 825.3L850.1 821.4L851.5 822.4L853.5 818.4L856.4 814.5L859.4 811.6L862.3 808.6L863.3 804.7L865.3 801.8L864.3 799.3L860.4 798.3L856.4 797.3L860.4 794.9L864.3 792.9L862.3 790.0L864.3 787.0L861.3 785.1L859.4 782.1L857.4 779.2L855.5 775.3L853.5 771.3L852.5 768.6L850.5 766.9L850.1 765.4L851.5 762.5L853.5 760.5L856.4 757.6L860.4 755.6L865.3 754.1L869.2 752.7L866.3 751.2L862.3 750.2L858.4 749.5L855.5 750.2L853.0 751.7L851.0 752.9L848.6 750.7L845.6 747.8L843.2 746.6L839.3 745.1L836.9 743.2L838.3 740.7L842.3 739.2L846.2 737.3L849.1 735.3L852.6 733.4L856.0 730.9L859.9 728.9L863.9 728.9L866.8 730.9L865.3 733.8L862.9 736.3L861.4 739.2L860.4 742.7L863.9 740.2L867.8 738.3L872.7 736.3L877.6 735.3L882.5 735.8L886.4 737.3L887.9 740.2L885.5 744.2L884.0 746.6L887.4 748.6L891.3 749.6L895.3 751.5L896.7 754.0L894.3 755.9L893.3 757.9L895.3 759.9L895.8 763.8L894.3 766.7L893.3 769.7L895.3 770.7L900.2 770.2L905.1 768.7L910.0 766.7L912.9 764.8L913.9 760.8L912.9 756.9L912.0 753.0L910.0 749.1L908.0 745.1L905.1 742.2L902.1 739.7L900.7 737.8L904.1 735.3L908.0 733.4L912.0 730.4L914.9 727.5L915.9 723.5L918.3 721.1L922.8 717.6L926.7 715.2L930.6 714.2L933.6 715.7L937.5 716.7L942.4 715.7L947.3 713.7L951.2 710.8L954.2 707.8L958.1 703.9L962.0 700.5L966.5 697.0L967.8 694.9L971.3 690.8L974.7 687.0L977.6 683.1L980.1 679.2L981.5 675.2L983.0 671.3L984.5 666.4L986.4 661.5L989.4 657.6L990.4 654.6L989.9 650.7L987.4 648.2L982.5 646.3L979.6 645.8L973.7 646.8L969.7 647.7L963.9 647.3L960.4 644.3L959.4 641.9L956.0 639.9L952.1 639.4L956.0 636.9L959.9 635.0L965.8 632.0L969.7 628.1L973.7 625.2L977.6 623.2L981.5 621.2L984.5 618.3L987.4 616.3L991.3 614.4L995.3 611.9L999.2 610.9L1005.1 609.9L1011.0 609.5L1016.9 609.9L1020.8 610.9L1024.7 610.4L1030.6 609.9L1035.5 609.9L1039.5 609.0L1043.4 608.0L1048.3 608.3L1053.2 609.0L1055.2 609.9L1059.1 610.9L1063.0 611.4L1066.5 610.4L1070.0 609.4L1073.0 607.9L1074.9 605.5L1078.9 603.0L1082.8 601.1L1086.7 598.1L1090.6 595.7L1095.5 594.2L1100.5 593.7L1105.4 593.7L1109.3 595.2L1112.2 600.1L1118.1 599.1L1123.0 597.1L1127.9 595.2L1129.9 593.2L1130.9 590.3L1133.8 588.3L1137.8 587.3L1141.7 588.8L1144.1 590.3L1140.7 590.7L1137.8 591.2L1135.8 594.2L1133.8 598.1L1129.9 600.1L1126.0 601.5L1122.1 604.0L1118.1 606.5L1114.2 608.9L1110.3 611.9L1106.3 614.3L1102.4 616.8L1097.5 618.7L1092.6 619.7L1089.7 620.7L1087.7 623.6L1084.7 626.6L1083.3 630.5L1082.3 635.4L1082.8 640.3L1083.8 645.2L1084.7 650.1L1086.2 655.0L1087.7 659.0L1089.2 662.4L1090.6 662.9L1093.6 660.9L1096.5 659.0L1099.5 656.0L1100.5 653.1L1102.4 650.6L1106.3 649.2L1109.3 647.2L1111.3 644.2L1113.2 641.3L1117.1 639.3L1121.1 637.4L1123.0 634.4L1126.0 631.5L1128.9 629.5L1129.9 627.6L1127.9 625.6L1127.0 623.6L1128.9 621.7L1130.4 620.2L1127.9 619.2L1125.0 618.7L1123.5 617.3L1126.0 615.3L1129.9 613.3L1133.8 612.8L1134.8 608.9L1135.8 606.5L1139.7 607.9L1144.6 607.1L1148.6 605.0L1150.0 602.8L1152.5 604.8L1157.4 604.0L1162.3 602.5L1167.2 602.0L1172.1 603.0L1178.0 604.0L1178.5 556.8L714.5 556.8L714.5 964.8Z"/>
<path fill="#c1c1c1" d="M779.3 870.3L780.3 867.4L783.2 865.4L787.1 864.5L791.1 863.5L794.0 864.0L793.5 866.4L791.1 869.4L789.1 872.3L786.2 874.3L782.2 873.8L779.8 872.3ZM854.0 840.0L855.9 836.1L859.4 832.2L862.8 830.2L864.8 832.2L864.1 836.1L862.1 840.0L860.6 844.0L859.1 847.9L857.9 849.1L855.3 845.4L853.5 842.5ZM923.2 770.8L926.2 768.4L931.1 765.9L936.0 763.9L940.9 763.9L945.8 763.4L950.7 763.0L954.7 762.0L956.6 759.5L958.6 757.6L960.5 754.6L961.0 751.2L963.0 750.7L963.5 754.6L966.4 753.6L970.4 751.7L974.3 748.7L977.2 745.8L979.7 741.9L981.7 736.9L982.6 732.0L983.1 727.1L984.1 723.2L986.1 721.7L986.6 724.7L988.5 725.2L990.0 729.1L992.0 732.0L993.9 736.0L994.4 738.9L992.9 741.9L991.0 744.8L989.0 747.7L988.0 751.7L987.5 755.6L986.1 758.5L985.6 761.5L985.1 763.9L983.1 765.4L981.2 766.4L977.2 766.9L973.3 767.4L969.4 767.9L965.5 768.4L961.5 769.3L958.6 770.3L956.6 773.3L954.7 775.7L952.2 774.2L950.7 771.3L949.7 769.3L945.8 769.3L940.9 769.3L936.0 770.3L931.1 770.8L926.2 772.3L923.2 772.8ZM933.1 777.2L936.0 774.2L939.9 772.8L943.9 772.3L946.8 773.3L945.3 775.7L941.9 777.2L938.0 778.7L935.0 780.6L933.1 779.2ZM915.4 778.2L918.3 775.2L922.3 774.7L926.2 776.2L929.1 779.2L928.6 783.1L927.2 787.0L925.2 790.0L922.3 791.9L920.3 789.0L918.8 785.0L916.9 781.1ZM985.1 715.3L988.0 713.4L991.0 710.4L992.9 706.5L993.9 702.6L994.9 700.6L997.9 702.6L1000.8 705.0L1004.7 707.5L1008.7 709.5L1012.6 710.9L1015.5 712.9L1012.6 714.4L1008.7 715.3L1005.7 717.3L1003.3 720.3L1000.8 719.8L997.9 718.3L994.9 717.3L992.0 716.8L990.0 718.3L988.0 719.3L986.1 718.3L985.1 716.8ZM998.7 642.3L1000.2 643.8L1001.2 647.7L1002.6 650.7L1002.1 654.6L1001.7 658.5L1003.1 662.5L1005.1 667.4L1006.6 670.3L1005.1 672.3L1002.1 675.2L1000.2 678.2L999.2 682.1L998.7 685.0L1000.2 687.5L1003.1 690.0L1005.1 692.9L1004.6 693.9L1002.1 691.9L999.2 690.0L997.7 690.9L996.7 693.9L995.3 696.3L994.3 694.9L994.8 690.9L995.8 687.0L995.3 683.1L994.3 679.2L994.8 675.2L995.3 671.3L995.8 667.4L996.3 663.4L994.8 659.5L993.3 656.6L994.3 652.6L995.3 648.7L998.2 647.7L998.2 644.3ZM855.8 878.2L857.8 874.3L860.7 872.8L864.7 873.8L867.6 875.3L866.6 879.2L868.6 882.6L867.6 886.1L865.6 889.0L863.7 891.9L862.7 895.9L863.2 899.8L861.7 903.7L858.8 903.7L857.3 900.8L856.8 896.9L854.8 894.9L853.4 891.9L853.9 888.0L855.3 884.1L855.8 881.1ZM822.4 962.1L823.4 960.2L826.4 955.8L830.3 950.8L833.7 948.4L837.2 951.3L841.1 954.3L845.0 956.2L848.0 958.2L849.9 960.2L850.4 962.1ZM879.7 941.3L883.1 937.4L886.4 935.1L889.8 934.6L892.0 936.8L893.7 940.2L895.4 944.1L894.6 946.9L892.9 949.7L891.8 948.0L890.4 947.5L889.5 950.3L889.0 954.2L887.0 956.2L884.7 954.8L881.9 953.1L879.7 951.4L878.6 948.6L879.1 945.8L880.8 944.1ZM880.8 944.1L880.0 941.0L877.5 937.9L874.6 936.5L871.6 937.6L867.9 940.2L865.1 943.8L864.0 947.2L866.2 948.3L868.5 945.5L871.3 943.3L873.8 941.9L875.8 942.1L877.7 944.1L879.1 946.3Z"/>
<path fill="#c1c1c1" fill-opacity="0.32" d="M1017.0 710.4L1022.4 706.5L1023.4 707.5L1018.0 711.4ZM1027.3 704.5L1034.2 700.6L1035.0 701.6L1028.1 705.5ZM1042.4 696.8L1048.3 693.9L1048.9 694.9L1043.0 698.0ZM1056.1 690.4L1061.0 688.0L1061.6 689.0L1056.7 691.6ZM910.4 813.5L914.4 808.6L915.3 809.4L911.4 814.3ZM902.1 823.8L906.0 819.4L907.0 820.2L903.1 824.6ZM892.8 777.7L896.7 776.4L897.2 777.7L893.3 778.8ZM1128.4 628.5L1130.4 627.6L1131.4 629.5L1129.4 630.7ZM963.4 643.8L965.8 643.3L966.3 645.3L963.9 645.8Z"/>
<path fill="#c1c1c1" fill-opacity="0.90" d="M880.8 913.2L884.2 911.6L887.8 912.4L889.0 915.5L888.1 918.3L885.9 917.7L884.5 915.8L882.2 915.5Z"/><path fill="#c1c1c1" fill-opacity="0.60" d="M884.5 917.2L886.7 917.7L886.4 925.6L884.7 925.6L884.3 920.0Z"/><path fill="#c1c1c1" fill-opacity="0.80" d="M866.2 917.7L872.4 918.9L871.0 922.2L867.9 923.3L865.7 923.9Z"/><path fill="#c1c1c1" fill-opacity="0.55" d="M869.0 924.5L872.1 923.3L874.6 927.3L875.2 932.6L872.7 934.0L870.4 930.1Z"/><path fill="#c1c1c1" fill-opacity="0.45" d="M873.0 922.5L875.5 922.8L878.0 928.9L876.6 930.9L874.4 927.3Z"/><path fill="#c1c1c1" fill-opacity="0.75" d="M855.6 906.2L858.4 904.8L861.5 907.6L863.1 912.7L860.9 914.1L858.1 912.4L856.1 909.0Z"/><path fill="#c1c1c1" fill-opacity="0.50" d="M865.7 903.4L868.2 900.9L871.6 900.3L875.2 903.1L878.6 906.2L881.4 909.3L882.5 912.4L880.5 912.7L878.0 909.6L874.6 906.8L871.6 904.0L869.0 903.4L866.8 905.4Z"/><path fill="#c1c1c1" fill-opacity="0.40" d="M873.2 912.4L876.6 911.6L878.9 914.4L877.7 916.0L874.9 914.9Z"/><path fill="#c1c1c1" fill-opacity="0.60" d="M878.0 927.3L880.3 926.7L880.8 928.9L878.6 929.5Z"/><path fill="#c1c1c1" fill-opacity="0.60" d="M841.3 932.3L844.6 927.0L847.4 923.1L849.7 919.7L851.4 920.8L849.1 924.7L846.3 928.9L843.0 934.3L838.5 939.6L836.8 938.2Z"/><path fill="#c1c1c1" fill-opacity="0.30" d="M858.4 953.4L861.2 953.1L861.5 954.5L858.7 954.8Z"/>
<path class="g" d="M725.5 560.6 V961.2M789.2 560.6 V961.2M852.5 560.6 V961.2M918.3 560.6 V961.2M982.0 560.6 V961.2M1047.5 560.6 V961.2M1111.2 560.6 V961.2M718.2 575.4 H1176.8M718.2 639.2 H1176.8M718.2 703.0 H1176.8M718.2 768.5 H1176.8M718.2 832.3 H1176.8M718.2 897.8 H1176.8"/>
</g>
<rect x="718.2" y="560.6" width="458.5" height="400.6" fill="none" stroke="#0c0c0c" stroke-width="2.45"/>
<text class="e" x="737.8" y="588.1">EXP03</text>
<text class="p" x="634.4" y="546.6">C</text>
<text class="t" text-anchor="end" letter-spacing=".6" x="708.3" y="581.9">65°N</text><text class="t" text-anchor="end" letter-spacing=".6" x="708.3" y="646.3">55°N</text><text class="t" text-anchor="end" letter-spacing=".6" x="708.3" y="710.7">45°N</text><text class="t" text-anchor="end" letter-spacing=".6" x="708.3" y="775.1">35°N</text><text class="t" text-anchor="end" letter-spacing=".6" x="708.3" y="839.5">25°N</text><text class="t" text-anchor="end" letter-spacing=".6" x="708.3" y="903.9">15°N</text>
<text class="t" text-anchor="middle" x="725.5" y="992.4">100°E</text><text class="t" text-anchor="middle" x="852.5" y="992.4">120°E</text><text class="t" text-anchor="middle" x="982.0" y="992.4">140°E</text><text class="t" text-anchor="middle" x="1111.2" y="992.4">160°E</text>
</g>
<g id="panelD">
<g clip-path="url(#cpD)">
<circle class="d" cx="509.4" cy="1126.6" r="6.65" fill="#2222ff"/><circle class="d" cx="380.8" cy="1191.0" r="6.65" fill="#ff1111"/><circle class="d" cx="445.1" cy="1191.0" r="6.65" fill="#3333ff"/><circle class="d" cx="509.4" cy="1191.0" r="6.65" fill="#ffffff"/><circle class="d" cx="316.5" cy="1255.4" r="6.65" fill="#ddddff"/><circle class="d" cx="380.8" cy="1255.4" r="6.65" fill="#c4c4ff"/><circle class="d" cx="445.1" cy="1255.4" r="6.65" fill="#5555ff"/><circle class="d" cx="509.4" cy="1255.4" r="6.65" fill="#ff0000"/><circle class="d" cx="252.3" cy="1319.8" r="6.65" fill="#ff6e6e"/><circle class="d" cx="316.5" cy="1319.8" r="6.65" fill="#ff6e6e"/><circle class="d" cx="380.8" cy="1319.8" r="6.65" fill="#ff0909"/><circle class="d" cx="445.1" cy="1319.8" r="6.65" fill="#d4d4ff"/><circle class="d" cx="509.4" cy="1319.8" r="6.65" fill="#ffe5e5"/><circle class="d" cx="188.0" cy="1384.2" r="6.65" fill="#5e5eff"/><circle class="d" cx="252.3" cy="1384.2" r="6.65" fill="#ff7777"/><circle class="d" cx="316.5" cy="1384.2" r="6.65" fill="#ff9090"/><circle class="d" cx="380.8" cy="1384.2" r="6.65" fill="#ffe5e5"/><circle class="d" cx="445.1" cy="1384.2" r="6.65" fill="#ff9999"/><circle class="d" cx="509.4" cy="1384.2" r="6.65" fill="#ffaaaa"/><circle class="d" cx="123.7" cy="1448.6" r="6.65" fill="#ffaaaa"/><circle class="d" cx="188.0" cy="1448.6" r="6.65" fill="#ff0909"/><circle class="d" cx="252.3" cy="1448.6" r="6.65" fill="#3333ff"/><circle class="d" cx="316.5" cy="1448.6" r="6.65" fill="#ffbbbb"/><circle class="d" cx="380.8" cy="1448.6" r="6.65" fill="#ffc3c3"/><circle class="d" cx="445.1" cy="1448.6" r="6.65" fill="#fff6f6"/><circle class="d" cx="509.4" cy="1448.6" r="6.65" fill="#ffaaaa"/>
<path fill="#c1c1c1" d="M111.9 1482.5L111.9 1479.7L104.6 1474.1L99.0 1469.0L95.1 1467.4L91.2 1465.7L89.5 1460.1L88.4 1454.5L86.7 1452.2L83.3 1451.1L83.3 1435.4L87.2 1434.8L90.0 1433.7L90.6 1430.9L91.2 1427.5L93.4 1426.7L96.2 1427.8L99.6 1431.5L104.1 1434.3L108.6 1437.6L111.4 1441.6L114.7 1444.4L117.0 1445.8L120.9 1446.0L123.7 1447.2L123.4 1451.1L122.0 1454.5L123.6 1457.8L127.6 1456.0L131.1 1453.2L132.7 1448.9L135.5 1446.0L141.1 1444.4L146.7 1440.4L150.1 1435.9L151.5 1429.8L150.4 1424.2L149.0 1420.8L148.6 1417.7L146.7 1413.7L144.2 1410.8L141.3 1407.8L137.4 1403.9L133.4 1400.0L131.5 1397.0L128.5 1393.6L126.6 1391.1L127.5 1388.7L130.5 1385.3L133.4 1381.3L137.4 1378.4L142.3 1375.4L147.2 1373.5L151.1 1374.5L154.0 1375.9L155.5 1376.4L156.0 1382.8L158.0 1382.8L158.5 1376.4L161.9 1375.4L166.8 1374.0L171.7 1372.5L173.3 1370.2L177.2 1368.2L178.2 1365.3L179.6 1365.8L180.6 1368.2L183.1 1366.7L188.0 1365.3L192.9 1363.8L197.8 1361.3L202.7 1358.4L206.6 1355.0L210.6 1352.0L213.5 1349.1L216.5 1346.1L217.0 1342.2L218.4 1343.2L220.4 1339.2L223.3 1335.3L226.3 1332.4L229.2 1329.4L230.2 1325.5L232.2 1322.6L231.2 1320.1L227.3 1319.1L223.3 1318.1L227.3 1315.7L231.2 1313.7L229.2 1310.8L231.2 1307.8L228.2 1305.9L226.3 1302.9L224.3 1300.0L222.4 1296.1L220.4 1292.1L219.4 1289.4L217.4 1287.7L217.0 1286.2L218.4 1283.3L220.4 1281.3L223.3 1278.4L227.3 1276.4L232.2 1274.9L236.1 1273.5L233.2 1272.0L229.2 1271.0L225.3 1270.3L222.4 1271.0L219.9 1272.5L217.9 1273.7L215.5 1271.5L212.5 1268.6L210.1 1267.4L206.2 1265.9L203.8 1264.0L205.2 1261.5L209.2 1260.0L213.1 1258.1L216.0 1256.1L219.5 1254.2L222.9 1251.7L226.8 1249.7L230.8 1249.7L233.7 1251.7L232.2 1254.6L229.8 1257.1L228.3 1260.0L227.3 1263.5L230.8 1261.0L234.7 1259.1L239.6 1257.1L244.5 1256.1L249.4 1256.6L253.3 1258.1L254.8 1261.0L252.4 1265.0L250.9 1267.4L254.3 1269.4L258.2 1270.4L262.2 1272.3L263.6 1274.8L261.2 1276.7L260.2 1278.7L262.2 1280.7L262.7 1284.6L261.2 1287.5L260.2 1290.5L262.2 1291.5L267.1 1291.0L272.0 1289.5L276.9 1287.5L279.8 1285.6L280.8 1281.6L279.8 1277.7L278.9 1273.8L276.9 1269.9L274.9 1265.9L272.0 1263.0L269.0 1260.5L267.6 1258.6L271.0 1256.1L274.9 1254.2L278.9 1251.2L281.8 1248.3L282.8 1244.3L285.2 1241.9L289.7 1238.4L293.6 1236.0L297.5 1235.0L300.5 1236.5L304.4 1237.5L309.3 1236.5L314.2 1234.5L318.1 1231.6L321.1 1228.6L325.0 1224.7L328.9 1221.3L333.4 1217.8L334.7 1215.7L338.2 1211.6L341.6 1207.8L344.5 1203.9L347.0 1200.0L348.4 1196.0L349.9 1192.1L351.4 1187.2L353.3 1182.3L356.3 1178.4L357.3 1175.4L356.8 1171.5L354.3 1169.0L349.4 1167.1L346.5 1166.6L340.6 1167.6L336.6 1168.5L330.8 1168.1L327.3 1165.1L326.3 1162.7L322.9 1160.7L319.0 1160.2L322.9 1157.7L326.8 1155.8L332.7 1152.8L336.6 1148.9L340.6 1146.0L344.5 1144.0L348.4 1142.0L351.4 1139.1L354.3 1137.1L358.2 1135.2L362.2 1132.7L366.1 1131.7L372.0 1130.7L377.9 1130.3L383.8 1130.7L387.7 1131.7L391.6 1131.2L397.5 1130.7L402.4 1130.7L406.4 1129.8L410.3 1128.8L415.2 1129.1L420.1 1129.8L422.1 1130.7L426.0 1131.7L429.9 1132.2L433.4 1131.2L436.9 1130.2L439.9 1128.7L441.8 1126.3L445.8 1123.8L449.7 1121.9L453.6 1118.9L457.5 1116.5L462.4 1115.0L467.4 1114.5L472.3 1114.5L476.2 1116.0L479.1 1120.9L485.0 1119.9L489.9 1117.9L494.8 1116.0L496.8 1114.0L497.8 1111.1L500.7 1109.1L504.7 1108.1L508.6 1109.6L511.0 1111.1L507.6 1111.5L504.7 1112.0L502.7 1115.0L500.7 1118.9L496.8 1120.9L492.9 1122.3L489.0 1124.8L485.0 1127.3L481.1 1129.7L477.2 1132.7L473.2 1135.1L469.3 1137.6L464.4 1139.5L459.5 1140.5L456.6 1141.5L454.6 1144.4L451.6 1147.4L450.2 1151.3L449.2 1156.2L449.7 1161.1L450.7 1166.0L451.6 1170.9L453.1 1175.8L454.6 1179.8L456.1 1183.2L457.5 1183.7L460.5 1181.7L463.4 1179.8L466.4 1176.8L467.4 1173.9L469.3 1171.4L473.2 1170.0L476.2 1168.0L478.2 1165.0L480.1 1162.1L484.0 1160.1L488.0 1158.2L489.9 1155.2L492.9 1152.3L495.8 1150.3L496.8 1148.4L494.8 1146.4L493.9 1144.4L495.8 1142.5L497.3 1141.0L494.8 1140.0L491.9 1139.5L490.4 1138.1L492.9 1136.1L496.8 1134.1L500.7 1133.6L501.7 1129.7L502.7 1127.3L506.6 1128.7L511.5 1127.9L515.5 1125.8L516.9 1123.6L519.4 1125.6L524.3 1124.8L529.2 1123.3L534.1 1122.8L539.0 1123.8L544.9 1124.8L545.5 1077.6L81.4 1077.6L81.4 1485.6Z"/>
<path fill="#c1c1c1" d="M146.2 1391.1L147.2 1388.2L150.1 1386.2L154.0 1385.3L158.0 1384.3L160.9 1384.8L160.4 1387.2L158.0 1390.2L156.0 1393.1L153.1 1395.1L149.1 1394.6L146.7 1393.1ZM220.9 1360.8L222.8 1356.9L226.3 1353.0L229.7 1351.0L231.7 1353.0L231.0 1356.9L229.0 1360.8L227.5 1364.8L226.0 1368.7L224.8 1369.9L222.2 1366.2L220.4 1363.3ZM290.1 1291.6L293.1 1289.2L298.0 1286.7L302.9 1284.7L307.8 1284.7L312.7 1284.2L317.6 1283.8L321.6 1282.8L323.5 1280.3L325.5 1278.4L327.4 1275.4L327.9 1272.0L329.9 1271.5L330.4 1275.4L333.3 1274.4L337.3 1272.5L341.2 1269.5L344.1 1266.6L346.6 1262.7L348.6 1257.7L349.5 1252.8L350.0 1247.9L351.0 1244.0L353.0 1242.5L353.5 1245.5L355.4 1246.0L356.9 1249.9L358.9 1252.8L360.8 1256.8L361.3 1259.7L359.8 1262.7L357.9 1265.6L355.9 1268.5L354.9 1272.5L354.4 1276.4L353.0 1279.3L352.5 1282.3L352.0 1284.7L350.0 1286.2L348.1 1287.2L344.1 1287.7L340.2 1288.2L336.3 1288.7L332.4 1289.2L328.4 1290.1L325.5 1291.1L323.5 1294.1L321.6 1296.5L319.1 1295.0L317.6 1292.1L316.6 1290.1L312.7 1290.1L307.8 1290.1L302.9 1291.1L298.0 1291.6L293.1 1293.1L290.1 1293.6ZM300.0 1298.0L302.9 1295.0L306.8 1293.6L310.8 1293.1L313.7 1294.1L312.2 1296.5L308.8 1298.0L304.9 1299.5L301.9 1301.4L300.0 1300.0ZM282.3 1299.0L285.2 1296.0L289.2 1295.5L293.1 1297.0L296.0 1300.0L295.5 1303.9L294.1 1307.8L292.1 1310.8L289.2 1312.7L287.2 1309.8L285.7 1305.8L283.8 1301.9ZM352.0 1236.1L354.9 1234.2L357.9 1231.2L359.8 1227.3L360.8 1223.4L361.8 1221.4L364.8 1223.4L367.7 1225.8L371.6 1228.3L375.6 1230.3L379.5 1231.7L382.4 1233.7L379.5 1235.2L375.6 1236.1L372.6 1238.1L370.2 1241.1L367.7 1240.6L364.8 1239.1L361.8 1238.1L358.9 1237.6L356.9 1239.1L354.9 1240.1L353.0 1239.1L352.0 1237.6ZM365.6 1163.1L367.1 1164.6L368.1 1168.5L369.5 1171.5L369.0 1175.4L368.6 1179.3L370.0 1183.3L372.0 1188.2L373.5 1191.1L372.0 1193.1L369.0 1196.0L367.1 1199.0L366.1 1202.9L365.6 1205.8L367.1 1208.3L370.0 1210.8L372.0 1213.7L371.5 1214.7L369.0 1212.7L366.1 1210.8L364.6 1211.7L363.6 1214.7L362.2 1217.1L361.2 1215.7L361.7 1211.7L362.7 1207.8L362.2 1203.9L361.2 1200.0L361.7 1196.0L362.2 1192.1L362.7 1188.2L363.2 1184.2L361.7 1180.3L360.2 1177.4L361.2 1173.4L362.2 1169.5L365.1 1168.5L365.1 1165.1ZM222.7 1399.0L224.7 1395.1L227.6 1393.6L231.6 1394.6L234.5 1396.1L233.5 1400.0L235.5 1403.4L234.5 1406.9L232.5 1409.8L230.6 1412.7L229.6 1416.7L230.1 1420.6L228.6 1424.5L225.7 1424.5L224.2 1421.6L223.7 1417.7L221.7 1415.7L220.3 1412.7L220.8 1408.8L222.2 1404.9L222.7 1401.9ZM189.3 1482.9L190.3 1481.0L193.3 1476.6L197.2 1471.6L200.6 1469.2L204.1 1472.1L208.0 1475.1L211.9 1477.0L214.9 1479.0L216.8 1481.0L217.3 1482.9ZM246.6 1462.1L250.0 1458.2L253.3 1455.9L256.7 1455.4L258.9 1457.6L260.6 1461.0L262.3 1464.9L261.5 1467.7L259.8 1470.5L258.7 1468.8L257.3 1468.3L256.4 1471.1L255.9 1475.0L253.9 1477.0L251.6 1475.6L248.8 1473.9L246.6 1472.2L245.5 1469.4L246.0 1466.6L247.7 1464.9ZM247.7 1464.9L246.9 1461.8L244.4 1458.7L241.5 1457.3L238.5 1458.4L234.8 1461.0L232.0 1464.6L230.9 1468.0L233.1 1469.1L235.4 1466.3L238.2 1464.1L240.7 1462.7L242.7 1462.9L244.6 1464.9L246.0 1467.1Z"/>
<path fill="#c1c1c1" fill-opacity="0.32" d="M383.9 1231.2L389.3 1227.3L390.3 1228.3L384.9 1232.2ZM394.2 1225.3L401.1 1221.4L401.9 1222.4L395.0 1226.3ZM409.3 1217.6L415.2 1214.7L415.8 1215.7L409.9 1218.8ZM423.0 1211.2L427.9 1208.8L428.5 1209.8L423.6 1212.4ZM277.3 1334.3L281.3 1329.4L282.2 1330.2L278.3 1335.1ZM269.0 1344.6L272.9 1340.2L273.9 1341.0L270.0 1345.4ZM259.7 1298.5L263.6 1297.2L264.1 1298.5L260.2 1299.6ZM495.3 1149.3L497.3 1148.4L498.3 1150.3L496.3 1151.5ZM330.3 1164.6L332.7 1164.1L333.2 1166.1L330.8 1166.6Z"/>
<path fill="#c1c1c1" fill-opacity="0.90" d="M247.7 1434.0L251.1 1432.4L254.7 1433.2L255.9 1436.3L255.0 1439.1L252.8 1438.5L251.4 1436.6L249.1 1436.3Z"/><path fill="#c1c1c1" fill-opacity="0.60" d="M251.4 1438.0L253.6 1438.5L253.3 1446.4L251.6 1446.4L251.2 1440.8Z"/><path fill="#c1c1c1" fill-opacity="0.80" d="M233.1 1438.5L239.3 1439.7L237.9 1443.0L234.8 1444.1L232.6 1444.7Z"/><path fill="#c1c1c1" fill-opacity="0.55" d="M235.9 1445.3L239.0 1444.1L241.5 1448.1L242.1 1453.4L239.6 1454.8L237.3 1450.9Z"/><path fill="#c1c1c1" fill-opacity="0.45" d="M239.9 1443.3L242.4 1443.6L244.9 1449.7L243.5 1451.7L241.3 1448.1Z"/><path fill="#c1c1c1" fill-opacity="0.75" d="M222.5 1427.0L225.3 1425.6L228.4 1428.4L230.0 1433.5L227.8 1434.9L225.0 1433.2L223.0 1429.8Z"/><path fill="#c1c1c1" fill-opacity="0.50" d="M232.6 1424.2L235.1 1421.7L238.5 1421.1L242.1 1423.9L245.5 1427.0L248.3 1430.1L249.4 1433.2L247.4 1433.5L244.9 1430.4L241.5 1427.6L238.5 1424.8L235.9 1424.2L233.7 1426.2Z"/><path fill="#c1c1c1" fill-opacity="0.40" d="M240.1 1433.2L243.5 1432.4L245.8 1435.2L244.6 1436.8L241.8 1435.7Z"/><path fill="#c1c1c1" fill-opacity="0.60" d="M244.9 1448.1L247.2 1447.5L247.7 1449.7L245.5 1450.3Z"/><path fill="#c1c1c1" fill-opacity="0.60" d="M208.2 1453.1L211.5 1447.8L214.3 1443.9L216.6 1440.5L218.3 1441.6L216.0 1445.5L213.2 1449.7L209.9 1455.1L205.4 1460.4L203.7 1459.0Z"/><path fill="#c1c1c1" fill-opacity="0.30" d="M225.3 1474.2L228.1 1473.9L228.4 1475.3L225.6 1475.6Z"/>
<path class="g" d="M92.3 1081.5 V1481.5M156.1 1081.5 V1481.5M219.4 1081.5 V1481.5M285.2 1081.5 V1481.5M348.9 1081.5 V1481.5M414.4 1081.5 V1481.5M478.2 1081.5 V1481.5M85.1 1096.2 H542.0M85.1 1160.0 H542.0M85.1 1223.8 H542.0M85.1 1289.3 H542.0M85.1 1353.1 H542.0M85.1 1418.6 H542.0"/>
</g>
<rect x="85.1" y="1081.5" width="456.9" height="400.0" fill="none" stroke="#0c0c0c" stroke-width="2.45"/>
<text class="e" x="102.9" y="1109.0">EXP04</text>
<text class="p" x="0.3" y="1064.6">D</text>
<text class="t" text-anchor="end" letter-spacing=".6" x="75.2" y="1102.8">65°N</text><text class="t" text-anchor="end" letter-spacing=".6" x="75.2" y="1167.2">55°N</text><text class="t" text-anchor="end" letter-spacing=".6" x="75.2" y="1231.6">45°N</text><text class="t" text-anchor="end" letter-spacing=".6" x="75.2" y="1296.0">35°N</text><text class="t" text-anchor="end" letter-spacing=".6" x="75.2" y="1360.4">25°N</text><text class="t" text-anchor="end" letter-spacing=".6" x="75.2" y="1424.8">15°N</text>
<text class="t" text-anchor="middle" x="92.3" y="1512.7">100°E</text><text class="t" text-anchor="middle" x="219.4" y="1512.7">120°E</text><text class="t" text-anchor="middle" x="348.9" y="1512.7">140°E</text><text class="t" text-anchor="middle" x="478.2" y="1512.7">160°E</text>
</g>
<g id="panelE">
<g clip-path="url(#cpE)">
<circle class="d" cx="1142.5" cy="1126.6" r="6.65" fill="#1111ff"/><circle class="d" cx="1013.9" cy="1191.0" r="6.65" fill="#ff1a1a"/><circle class="d" cx="1078.2" cy="1191.0" r="6.65" fill="#0000ff"/><circle class="d" cx="1142.5" cy="1191.0" r="6.65" fill="#e6e6ff"/><circle class="d" cx="949.6" cy="1255.4" r="6.65" fill="#ffd4d4"/><circle class="d" cx="1013.9" cy="1255.4" r="6.65" fill="#ffe5e5"/><circle class="d" cx="1078.2" cy="1255.4" r="6.65" fill="#ffe5e5"/><circle class="d" cx="1142.5" cy="1255.4" r="6.65" fill="#ff0000"/><circle class="d" cx="885.4" cy="1319.8" r="6.65" fill="#ff2222"/><circle class="d" cx="949.6" cy="1319.8" r="6.65" fill="#ff4444"/><circle class="d" cx="1013.9" cy="1319.8" r="6.65" fill="#ff1a1a"/><circle class="d" cx="1078.2" cy="1319.8" r="6.65" fill="#ffffff"/><circle class="d" cx="1142.5" cy="1319.8" r="6.65" fill="#eeeeff"/><circle class="d" cx="821.1" cy="1384.2" r="6.65" fill="#a2a2ff"/><circle class="d" cx="885.4" cy="1384.2" r="6.65" fill="#ff8080"/><circle class="d" cx="949.6" cy="1384.2" r="6.65" fill="#ff7777"/><circle class="d" cx="1013.9" cy="1384.2" r="6.65" fill="#ffbbbb"/><circle class="d" cx="1078.2" cy="1384.2" r="6.65" fill="#ff8080"/><circle class="d" cx="1142.5" cy="1384.2" r="6.65" fill="#ffc3c3"/><circle class="d" cx="756.8" cy="1448.6" r="6.65" fill="#ff6666"/><circle class="d" cx="821.1" cy="1448.6" r="6.65" fill="#ff0000"/><circle class="d" cx="885.4" cy="1448.6" r="6.65" fill="#9090ff"/><circle class="d" cx="949.6" cy="1448.6" r="6.65" fill="#ffaaaa"/><circle class="d" cx="1013.9" cy="1448.6" r="6.65" fill="#ffb2b2"/><circle class="d" cx="1078.2" cy="1448.6" r="6.65" fill="#fffbfb"/><circle class="d" cx="1142.5" cy="1448.6" r="6.65" fill="#ffa2a2"/>
<path fill="#c1c1c1" d="M745.0 1482.5L745.0 1479.7L737.7 1474.1L732.1 1469.0L728.2 1467.4L724.3 1465.7L722.6 1460.1L721.5 1454.5L719.8 1452.2L716.4 1451.1L716.4 1435.4L720.3 1434.8L723.1 1433.7L723.7 1430.9L724.3 1427.5L726.5 1426.7L729.3 1427.8L732.7 1431.5L737.2 1434.3L741.7 1437.6L744.5 1441.6L747.8 1444.4L750.1 1445.8L754.0 1446.0L756.8 1447.2L756.5 1451.1L755.1 1454.5L756.7 1457.8L760.7 1456.0L764.2 1453.2L765.8 1448.9L768.6 1446.0L774.2 1444.4L779.8 1440.4L783.2 1435.9L784.6 1429.8L783.5 1424.2L782.1 1420.8L781.7 1417.7L779.8 1413.7L777.3 1410.8L774.4 1407.8L770.5 1403.9L766.5 1400.0L764.6 1397.0L761.6 1393.6L759.7 1391.1L760.6 1388.7L763.6 1385.3L766.5 1381.3L770.5 1378.4L775.4 1375.4L780.3 1373.5L784.2 1374.5L787.1 1375.9L788.6 1376.4L789.1 1382.8L791.1 1382.8L791.6 1376.4L795.0 1375.4L799.9 1374.0L804.8 1372.5L806.4 1370.2L810.3 1368.2L811.3 1365.3L812.7 1365.8L813.7 1368.2L816.2 1366.7L821.1 1365.3L826.0 1363.8L830.9 1361.3L835.8 1358.4L839.7 1355.0L843.7 1352.0L846.6 1349.1L849.6 1346.1L850.1 1342.2L851.5 1343.2L853.5 1339.2L856.4 1335.3L859.4 1332.4L862.3 1329.4L863.3 1325.5L865.3 1322.6L864.3 1320.1L860.4 1319.1L856.4 1318.1L860.4 1315.7L864.3 1313.7L862.3 1310.8L864.3 1307.8L861.3 1305.9L859.4 1302.9L857.4 1300.0L855.5 1296.1L853.5 1292.1L852.5 1289.4L850.5 1287.7L850.1 1286.2L851.5 1283.3L853.5 1281.3L856.4 1278.4L860.4 1276.4L865.3 1274.9L869.2 1273.5L866.3 1272.0L862.3 1271.0L858.4 1270.3L855.5 1271.0L853.0 1272.5L851.0 1273.7L848.6 1271.5L845.6 1268.6L843.2 1267.4L839.3 1265.9L836.9 1264.0L838.3 1261.5L842.3 1260.0L846.2 1258.1L849.1 1256.1L852.6 1254.2L856.0 1251.7L859.9 1249.7L863.9 1249.7L866.8 1251.7L865.3 1254.6L862.9 1257.1L861.4 1260.0L860.4 1263.5L863.9 1261.0L867.8 1259.1L872.7 1257.1L877.6 1256.1L882.5 1256.6L886.4 1258.1L887.9 1261.0L885.5 1265.0L884.0 1267.4L887.4 1269.4L891.3 1270.4L895.3 1272.3L896.7 1274.8L894.3 1276.7L893.3 1278.7L895.3 1280.7L895.8 1284.6L894.3 1287.5L893.3 1290.5L895.3 1291.5L900.2 1291.0L905.1 1289.5L910.0 1287.5L912.9 1285.6L913.9 1281.6L912.9 1277.7L912.0 1273.8L910.0 1269.9L908.0 1265.9L905.1 1263.0L902.1 1260.5L900.7 1258.6L904.1 1256.1L908.0 1254.2L912.0 1251.2L914.9 1248.3L915.9 1244.3L918.3 1241.9L922.8 1238.4L926.7 1236.0L930.6 1235.0L933.6 1236.5L937.5 1237.5L942.4 1236.5L947.3 1234.5L951.2 1231.6L954.2 1228.6L958.1 1224.7L962.0 1221.3L966.5 1217.8L967.8 1215.7L971.3 1211.6L974.7 1207.8L977.6 1203.9L980.1 1200.0L981.5 1196.0L983.0 1192.1L984.5 1187.2L986.4 1182.3L989.4 1178.4L990.4 1175.4L989.9 1171.5L987.4 1169.0L982.5 1167.1L979.6 1166.6L973.7 1167.6L969.7 1168.5L963.9 1168.1L960.4 1165.1L959.4 1162.7L956.0 1160.7L952.1 1160.2L956.0 1157.7L959.9 1155.8L965.8 1152.8L969.7 1148.9L973.7 1146.0L977.6 1144.0L981.5 1142.0L984.5 1139.1L987.4 1137.1L991.3 1135.2L995.3 1132.7L999.2 1131.7L1005.1 1130.7L1011.0 1130.3L1016.9 1130.7L1020.8 1131.7L1024.7 1131.2L1030.6 1130.7L1035.5 1130.7L1039.5 1129.8L1043.4 1128.8L1048.3 1129.1L1053.2 1129.8L1055.2 1130.7L1059.1 1131.7L1063.0 1132.2L1066.5 1131.2L1070.0 1130.2L1073.0 1128.7L1074.9 1126.3L1078.9 1123.8L1082.8 1121.9L1086.7 1118.9L1090.6 1116.5L1095.5 1115.0L1100.5 1114.5L1105.4 1114.5L1109.3 1116.0L1112.2 1120.9L1118.1 1119.9L1123.0 1117.9L1127.9 1116.0L1129.9 1114.0L1130.9 1111.1L1133.8 1109.1L1137.8 1108.1L1141.7 1109.6L1144.1 1111.1L1140.7 1111.5L1137.8 1112.0L1135.8 1115.0L1133.8 1118.9L1129.9 1120.9L1126.0 1122.3L1122.1 1124.8L1118.1 1127.3L1114.2 1129.7L1110.3 1132.7L1106.3 1135.1L1102.4 1137.6L1097.5 1139.5L1092.6 1140.5L1089.7 1141.5L1087.7 1144.4L1084.7 1147.4L1083.3 1151.3L1082.3 1156.2L1082.8 1161.1L1083.8 1166.0L1084.7 1170.9L1086.2 1175.8L1087.7 1179.8L1089.2 1183.2L1090.6 1183.7L1093.6 1181.7L1096.5 1179.8L1099.5 1176.8L1100.5 1173.9L1102.4 1171.4L1106.3 1170.0L1109.3 1168.0L1111.3 1165.0L1113.2 1162.1L1117.1 1160.1L1121.1 1158.2L1123.0 1155.2L1126.0 1152.3L1128.9 1150.3L1129.9 1148.4L1127.9 1146.4L1127.0 1144.4L1128.9 1142.5L1130.4 1141.0L1127.9 1140.0L1125.0 1139.5L1123.5 1138.1L1126.0 1136.1L1129.9 1134.1L1133.8 1133.6L1134.8 1129.7L1135.8 1127.3L1139.7 1128.7L1144.6 1127.9L1148.6 1125.8L1150.0 1123.6L1152.5 1125.6L1157.4 1124.8L1162.3 1123.3L1167.2 1122.8L1172.1 1123.8L1178.0 1124.8L1178.5 1077.6L714.5 1077.6L714.5 1485.6Z"/>
<path fill="#c1c1c1" d="M779.3 1391.1L780.3 1388.2L783.2 1386.2L787.1 1385.3L791.1 1384.3L794.0 1384.8L793.5 1387.2L791.1 1390.2L789.1 1393.1L786.2 1395.1L782.2 1394.6L779.8 1393.1ZM854.0 1360.8L855.9 1356.9L859.4 1353.0L862.8 1351.0L864.8 1353.0L864.1 1356.9L862.1 1360.8L860.6 1364.8L859.1 1368.7L857.9 1369.9L855.3 1366.2L853.5 1363.3ZM923.2 1291.6L926.2 1289.2L931.1 1286.7L936.0 1284.7L940.9 1284.7L945.8 1284.2L950.7 1283.8L954.7 1282.8L956.6 1280.3L958.6 1278.4L960.5 1275.4L961.0 1272.0L963.0 1271.5L963.5 1275.4L966.4 1274.4L970.4 1272.5L974.3 1269.5L977.2 1266.6L979.7 1262.7L981.7 1257.7L982.6 1252.8L983.1 1247.9L984.1 1244.0L986.1 1242.5L986.6 1245.5L988.5 1246.0L990.0 1249.9L992.0 1252.8L993.9 1256.8L994.4 1259.7L992.9 1262.7L991.0 1265.6L989.0 1268.5L988.0 1272.5L987.5 1276.4L986.1 1279.3L985.6 1282.3L985.1 1284.7L983.1 1286.2L981.2 1287.2L977.2 1287.7L973.3 1288.2L969.4 1288.7L965.5 1289.2L961.5 1290.1L958.6 1291.1L956.6 1294.1L954.7 1296.5L952.2 1295.0L950.7 1292.1L949.7 1290.1L945.8 1290.1L940.9 1290.1L936.0 1291.1L931.1 1291.6L926.2 1293.1L923.2 1293.6ZM933.1 1298.0L936.0 1295.0L939.9 1293.6L943.9 1293.1L946.8 1294.1L945.3 1296.5L941.9 1298.0L938.0 1299.5L935.0 1301.4L933.1 1300.0ZM915.4 1299.0L918.3 1296.0L922.3 1295.5L926.2 1297.0L929.1 1300.0L928.6 1303.9L927.2 1307.8L925.2 1310.8L922.3 1312.7L920.3 1309.8L918.8 1305.8L916.9 1301.9ZM985.1 1236.1L988.0 1234.2L991.0 1231.2L992.9 1227.3L993.9 1223.4L994.9 1221.4L997.9 1223.4L1000.8 1225.8L1004.7 1228.3L1008.7 1230.3L1012.6 1231.7L1015.5 1233.7L1012.6 1235.2L1008.7 1236.1L1005.7 1238.1L1003.3 1241.1L1000.8 1240.6L997.9 1239.1L994.9 1238.1L992.0 1237.6L990.0 1239.1L988.0 1240.1L986.1 1239.1L985.1 1237.6ZM998.7 1163.1L1000.2 1164.6L1001.2 1168.5L1002.6 1171.5L1002.1 1175.4L1001.7 1179.3L1003.1 1183.3L1005.1 1188.2L1006.6 1191.1L1005.1 1193.1L1002.1 1196.0L1000.2 1199.0L999.2 1202.9L998.7 1205.8L1000.2 1208.3L1003.1 1210.8L1005.1 1213.7L1004.6 1214.7L1002.1 1212.7L999.2 1210.8L997.7 1211.7L996.7 1214.7L995.3 1217.1L994.3 1215.7L994.8 1211.7L995.8 1207.8L995.3 1203.9L994.3 1200.0L994.8 1196.0L995.3 1192.1L995.8 1188.2L996.3 1184.2L994.8 1180.3L993.3 1177.4L994.3 1173.4L995.3 1169.5L998.2 1168.5L998.2 1165.1ZM855.8 1399.0L857.8 1395.1L860.7 1393.6L864.7 1394.6L867.6 1396.1L866.6 1400.0L868.6 1403.4L867.6 1406.9L865.6 1409.8L863.7 1412.7L862.7 1416.7L863.2 1420.6L861.7 1424.5L858.8 1424.5L857.3 1421.6L856.8 1417.7L854.8 1415.7L853.4 1412.7L853.9 1408.8L855.3 1404.9L855.8 1401.9ZM822.4 1482.9L823.4 1481.0L826.4 1476.6L830.3 1471.6L833.7 1469.2L837.2 1472.1L841.1 1475.1L845.0 1477.0L848.0 1479.0L849.9 1481.0L850.4 1482.9ZM879.7 1462.1L883.1 1458.2L886.4 1455.9L889.8 1455.4L892.0 1457.6L893.7 1461.0L895.4 1464.9L894.6 1467.7L892.9 1470.5L891.8 1468.8L890.4 1468.3L889.5 1471.1L889.0 1475.0L887.0 1477.0L884.7 1475.6L881.9 1473.9L879.7 1472.2L878.6 1469.4L879.1 1466.6L880.8 1464.9ZM880.8 1464.9L880.0 1461.8L877.5 1458.7L874.6 1457.3L871.6 1458.4L867.9 1461.0L865.1 1464.6L864.0 1468.0L866.2 1469.1L868.5 1466.3L871.3 1464.1L873.8 1462.7L875.8 1462.9L877.7 1464.9L879.1 1467.1Z"/>
<path fill="#c1c1c1" fill-opacity="0.32" d="M1017.0 1231.2L1022.4 1227.3L1023.4 1228.3L1018.0 1232.2ZM1027.3 1225.3L1034.2 1221.4L1035.0 1222.4L1028.1 1226.3ZM1042.4 1217.6L1048.3 1214.7L1048.9 1215.7L1043.0 1218.8ZM1056.1 1211.2L1061.0 1208.8L1061.6 1209.8L1056.7 1212.4ZM910.4 1334.3L914.4 1329.4L915.3 1330.2L911.4 1335.1ZM902.1 1344.6L906.0 1340.2L907.0 1341.0L903.1 1345.4ZM892.8 1298.5L896.7 1297.2L897.2 1298.5L893.3 1299.6ZM1128.4 1149.3L1130.4 1148.4L1131.4 1150.3L1129.4 1151.5ZM963.4 1164.6L965.8 1164.1L966.3 1166.1L963.9 1166.6Z"/>
<path fill="#c1c1c1" fill-opacity="0.90" d="M880.8 1434.0L884.2 1432.4L887.8 1433.2L889.0 1436.3L888.1 1439.1L885.9 1438.5L884.5 1436.6L882.2 1436.3Z"/><path fill="#c1c1c1" fill-opacity="0.60" d="M884.5 1438.0L886.7 1438.5L886.4 1446.4L884.7 1446.4L884.3 1440.8Z"/><path fill="#c1c1c1" fill-opacity="0.80" d="M866.2 1438.5L872.4 1439.7L871.0 1443.0L867.9 1444.1L865.7 1444.7Z"/><path fill="#c1c1c1" fill-opacity="0.55" d="M869.0 1445.3L872.1 1444.1L874.6 1448.1L875.2 1453.4L872.7 1454.8L870.4 1450.9Z"/><path fill="#c1c1c1" fill-opacity="0.45" d="M873.0 1443.3L875.5 1443.6L878.0 1449.7L876.6 1451.7L874.4 1448.1Z"/><path fill="#c1c1c1" fill-opacity="0.75" d="M855.6 1427.0L858.4 1425.6L861.5 1428.4L863.1 1433.5L860.9 1434.9L858.1 1433.2L856.1 1429.8Z"/><path fill="#c1c1c1" fill-opacity="0.50" d="M865.7 1424.2L868.2 1421.7L871.6 1421.1L875.2 1423.9L878.6 1427.0L881.4 1430.1L882.5 1433.2L880.5 1433.5L878.0 1430.4L874.6 1427.6L871.6 1424.8L869.0 1424.2L866.8 1426.2Z"/><path fill="#c1c1c1" fill-opacity="0.40" d="M873.2 1433.2L876.6 1432.4L878.9 1435.2L877.7 1436.8L874.9 1435.7Z"/><path fill="#c1c1c1" fill-opacity="0.60" d="M878.0 1448.1L880.3 1447.5L880.8 1449.7L878.6 1450.3Z"/><path fill="#c1c1c1" fill-opacity="0.60" d="M841.3 1453.1L844.6 1447.8L847.4 1443.9L849.7 1440.5L851.4 1441.6L849.1 1445.5L846.3 1449.7L843.0 1455.1L838.5 1460.4L836.8 1459.0Z"/><path fill="#c1c1c1" fill-opacity="0.30" d="M858.4 1474.2L861.2 1473.9L861.5 1475.3L858.7 1475.6Z"/>
<path class="g" d="M725.5 1081.4 V1481.4M789.2 1081.4 V1481.4M852.5 1081.4 V1481.4M918.3 1081.4 V1481.4M982.0 1081.4 V1481.4M1047.5 1081.4 V1481.4M1111.2 1081.4 V1481.4M718.2 1096.2 H1176.8M718.2 1160.0 H1176.8M718.2 1223.8 H1176.8M718.2 1289.3 H1176.8M718.2 1353.1 H1176.8M718.2 1418.6 H1176.8"/>
</g>
<rect x="718.2" y="1081.4" width="458.5" height="400.0" fill="none" stroke="#0c0c0c" stroke-width="2.45"/>
<text class="e" x="737.8" y="1108.9">EXP05</text>
<text class="p" x="634.4" y="1064.4">E</text>
<text class="t" text-anchor="end" letter-spacing=".6" x="708.3" y="1102.7">65°N</text><text class="t" text-anchor="end" letter-spacing=".6" x="708.3" y="1167.1">55°N</text><text class="t" text-anchor="end" letter-spacing=".6" x="708.3" y="1231.5">45°N</text><text class="t" text-anchor="end" letter-spacing=".6" x="708.3" y="1295.9">35°N</text><text class="t" text-anchor="end" letter-spacing=".6" x="708.3" y="1360.3">25°N</text><text class="t" text-anchor="end" letter-spacing=".6" x="708.3" y="1424.7">15°N</text>
<text class="t" text-anchor="middle" x="725.5" y="1512.6">100°E</text><text class="t" text-anchor="middle" x="852.5" y="1512.6">120°E</text><text class="t" text-anchor="middle" x="982.0" y="1512.6">140°E</text><text class="t" text-anchor="middle" x="1111.2" y="1512.6">160°E</text>
</g>
<g id="colorbar">
<rect x="1247.8" y="105.3" width="65.7" height="1310.7" fill="url(#bwr)"/>
<path d="M1247.8 105.8 L1280.7 39.1 L1313.5 105.8 Z" fill="#ff0000"/>
<path d="M1247.8 1415.5 L1280.7 1480.6 L1313.5 1415.5 Z" fill="#0000ff"/>
<path d="M1247.8 105.3 L1280.7 39.1 L1313.5 105.3 V1416.0 L1280.7 1480.6 L1247.8 1416.0 Z" fill="none" stroke="#000" stroke-width="2.0" stroke-linejoin="miter"/>
<path d="M1313.5 105.3 h9.3" stroke="#000" stroke-width="1.9"/><text class="c" x="1330.5" y="115.5">30</text>
<path d="M1313.5 323.8 h9.3" stroke="#000" stroke-width="1.9"/><text class="c" x="1330.5" y="333.9">20</text>
<path d="M1313.5 542.2 h9.3" stroke="#000" stroke-width="1.9"/><text class="c" x="1332.9" y="553.9">10</text>
<path d="M1313.5 760.6 h9.3" stroke="#000" stroke-width="1.9"/><text class="c" x="1333.1" y="771.1">0</text>
<path d="M1313.5 979.1 h9.3" stroke="#000" stroke-width="1.9"/><text class="c" x="1332.5" y="989.6">−10</text>
<path d="M1313.5 1197.5 h9.3" stroke="#000" stroke-width="1.9"/><text class="c" x="1332.3" y="1208.8">−20</text>
<path d="M1313.5 1416.0 h9.3" stroke="#000" stroke-width="1.9"/><text class="c" x="1332.3" y="1426.8">−30</text>
<text class="l" text-anchor="middle" transform="translate(1417.8 762.8) rotate(-90)">IOA [%]</text>
</g>
</g>
</svg>
</body></html>
